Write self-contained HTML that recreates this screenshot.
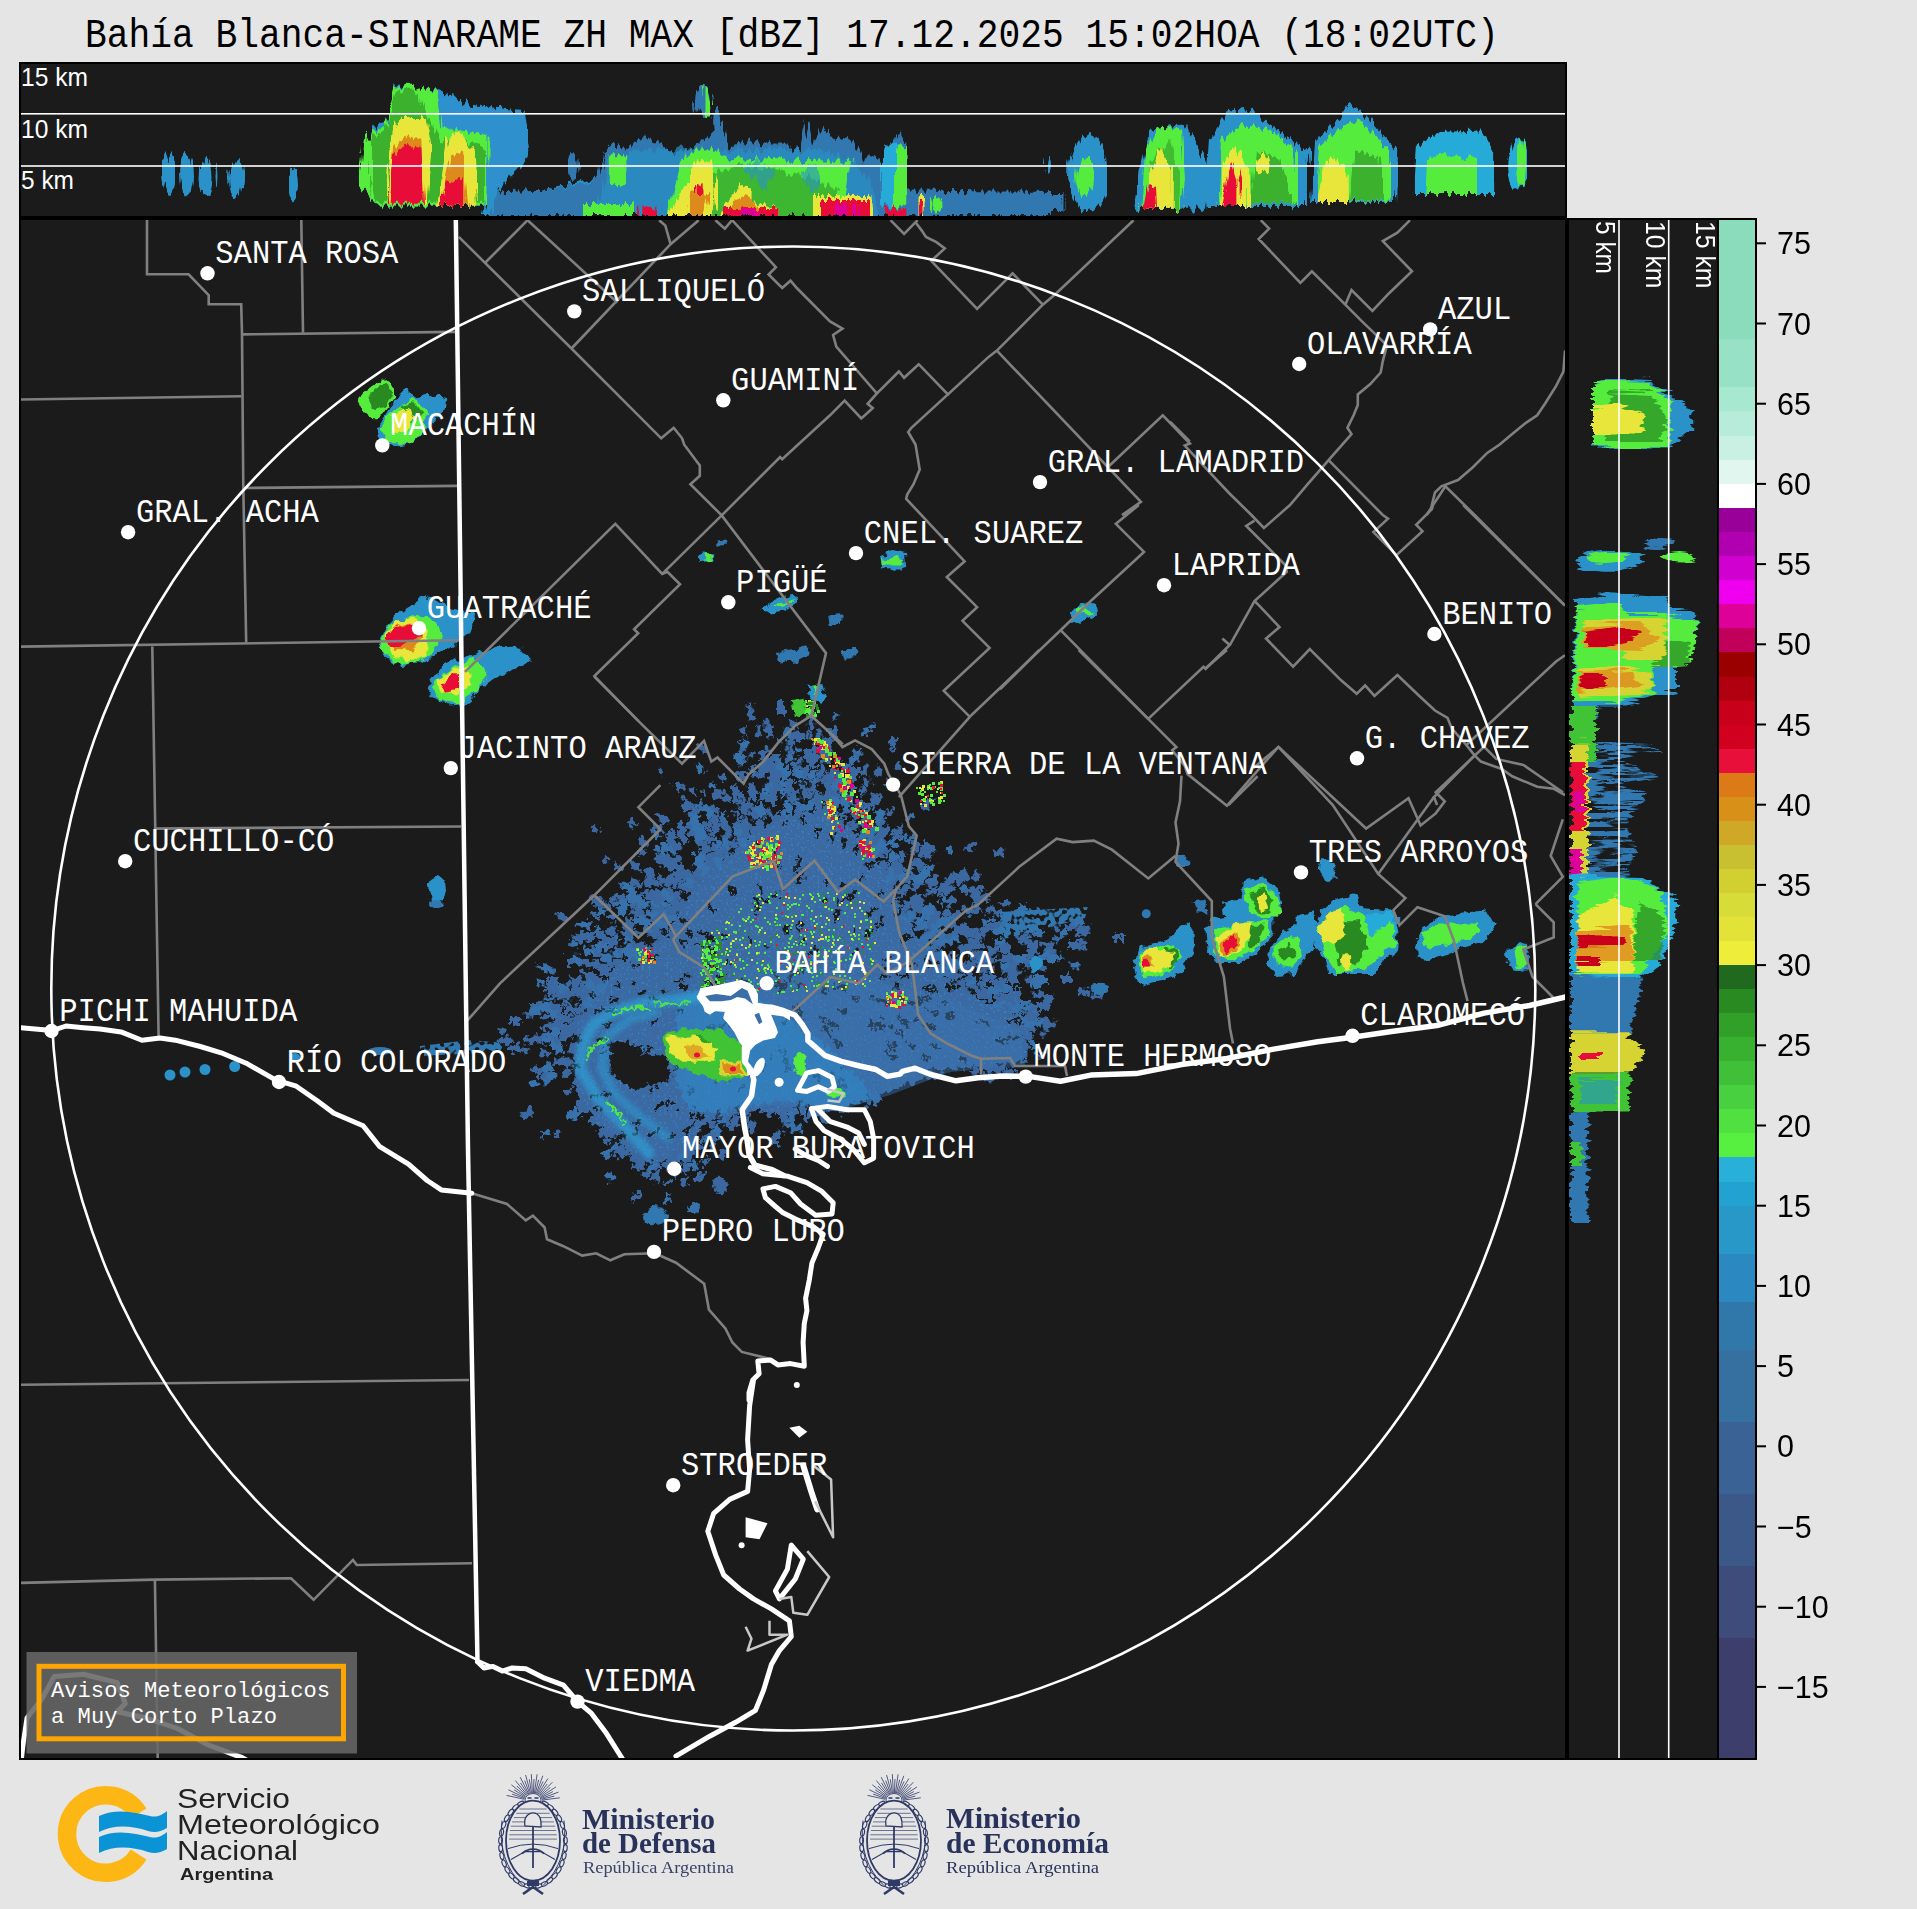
<!DOCTYPE html>
<html><head><meta charset="utf-8"><style>
html,body{margin:0;padding:0;background:#e5e5e5;width:1917px;height:1909px;overflow:hidden}
svg{display:block}
text{white-space:pre}
</style></head><body>
<svg xmlns="http://www.w3.org/2000/svg" width="1917" height="1909" viewBox="0 0 1917 1909">
<defs>
<clipPath id="cTop"><rect x="21" y="64" width="1544" height="152"/></clipPath>
<clipPath id="cMap"><rect x="21" y="220" width="1544" height="1538"/></clipPath>
<clipPath id="cRight"><rect x="1569" y="220" width="148" height="1538"/></clipPath>

<filter id="blur2" x="-20%" y="-20%" width="140%" height="140%"><feGaussianBlur stdDeviation="2"/></filter>
<filter id="streakH" filterUnits="userSpaceOnUse" x="0" y="0" width="1917" height="1909">
<feTurbulence type="fractalNoise" baseFrequency="0.03 0.22" numOctaves="2" seed="8" result="n"/>
<feColorMatrix in="n" type="matrix" values="0 0 0 0 0 0 0 0 0 0 0 0 0 0 0 10 0 0 0 -4.2" result="m"/>
<feComposite in="SourceGraphic" in2="m" operator="in"/>
</filter>
<filter id="jagTop" filterUnits="userSpaceOnUse" x="0" y="0" width="1917" height="1909">
<feTurbulence type="fractalNoise" baseFrequency="0.25 0.015" numOctaves="2" seed="7" result="n"/>
<feDisplacementMap in="SourceGraphic" in2="n" scale="14" xChannelSelector="R" yChannelSelector="G"/>
</filter>
<filter id="jagRight" filterUnits="userSpaceOnUse" x="0" y="0" width="1917" height="1909">
<feTurbulence type="fractalNoise" baseFrequency="0.015 0.25" numOctaves="2" seed="5" result="n"/>
<feDisplacementMap in="SourceGraphic" in2="n" scale="14" xChannelSelector="R" yChannelSelector="G"/>
</filter>
<filter id="jagField" filterUnits="userSpaceOnUse" x="0" y="0" width="1917" height="1909">
<feTurbulence type="fractalNoise" baseFrequency="0.18" numOctaves="2" seed="17" result="n"/>
<feDisplacementMap in="SourceGraphic" in2="n" scale="12" xChannelSelector="R" yChannelSelector="G"/>
</filter>
<filter id="jagMap" filterUnits="userSpaceOnUse" x="0" y="0" width="1917" height="1909">
<feTurbulence type="fractalNoise" baseFrequency="0.12" numOctaves="2" seed="11" result="n"/>
<feDisplacementMap in="SourceGraphic" in2="n" scale="9" xChannelSelector="R" yChannelSelector="G"/>
</filter>
<filter id="speckA" filterUnits="userSpaceOnUse" x="0" y="0" width="1917" height="1909">
<feTurbulence type="fractalNoise" baseFrequency="0.11" numOctaves="2" seed="4" result="n"/>
<feColorMatrix in="n" type="matrix" values="0 0 0 0 0 0 0 0 0 0 0 0 0 0 0 12 0 0 0 -5.6" result="m"/>
<feComposite in="SourceGraphic" in2="m" operator="in"/>
</filter>
<filter id="speckB" filterUnits="userSpaceOnUse" x="0" y="0" width="1917" height="1909">
<feTurbulence type="fractalNoise" baseFrequency="0.13" numOctaves="2" seed="9" result="n"/>
<feColorMatrix in="n" type="matrix" values="0 0 0 0 0 0 0 0 0 0 0 0 0 0 0 12 0 0 0 -4.4" result="m"/>
<feComposite in="SourceGraphic" in2="m" operator="in"/>
</filter>
<filter id="speckC" filterUnits="userSpaceOnUse" x="0" y="0" width="1917" height="1909">
<feTurbulence type="fractalNoise" baseFrequency="0.15" numOctaves="2" seed="13" result="n"/>
<feColorMatrix in="n" type="matrix" values="0 0 0 0 0 0 0 0 0 0 0 0 0 0 0 12 0 0 0 -3.2" result="m"/>
<feComposite in="SourceGraphic" in2="m" operator="in"/>
</filter>
<filter id="speckD" filterUnits="userSpaceOnUse" x="0" y="0" width="1917" height="1909">
<feTurbulence type="fractalNoise" baseFrequency="0.2" numOctaves="1" seed="21" result="n"/>
<feColorMatrix in="n" type="matrix" values="0 0 0 0 0 0 0 0 0 0 0 0 0 0 0 12 0 0 0 -5" result="m"/>
<feComposite in="SourceGraphic" in2="m" operator="in"/>
</filter>
<filter id="speckE" filterUnits="userSpaceOnUse" x="0" y="0" width="1917" height="1909">
<feTurbulence type="fractalNoise" baseFrequency="0.45" numOctaves="1" seed="33" result="n"/>
<feColorMatrix in="n" type="matrix" values="0 0 0 0 0 0 0 0 0 0 0 0 0 0 0 14 0 0 0 -8.5" result="m"/>
<feComposite in="SourceGraphic" in2="m" operator="in"/>
</filter>

</defs>
<rect width="1917" height="1909" fill="#e5e5e5"/>
<text x="85" y="47" font-family="Liberation Mono" font-size="40.4" fill="#000" textLength="1413.8" lengthAdjust="spacingAndGlyphs">Bahía Blanca-SINARAME ZH MAX [dBZ] 17.12.2025 15:02HOA (18:02UTC)</text>

<!-- top panel -->
<rect x="20" y="63" width="1546" height="154" fill="#1b1b1b"/>
<g clip-path="url(#cTop)">
<g filter="url(#jagTop)"><ellipse cx="169.6" cy="173.5" rx="6.5" ry="20.0" fill="#2a92c8" />
<ellipse cx="186.0" cy="175.0" rx="6.0" ry="21.0" fill="#2a92c8" />
<ellipse cx="207.0" cy="177.0" rx="6.5" ry="19.0" fill="#2a92c8" />
<ellipse cx="235.0" cy="179.0" rx="7.0" ry="19.0" fill="#2a92c8" />
<ellipse cx="293.0" cy="184.0" rx="5.0" ry="17.0" fill="#2a92c8" />
<path d="M358.7,176.8 L366.5,140.2 L376.9,124.6 L395.2,114.2 L395.2,85.5 L436.9,89.4 L473.4,105.0 L525.6,111.6 L530.8,148.1 L525.6,161.1 L509.9,176.8 L496.9,192.4 L541.2,191.1 L567.3,184.6 L650.0,166.3 L650.0,215.9 L483.9,215.9 L486.5,205.5 L376.9,205.5 L358.7,184.6 Z" fill="#2a92c8" />
<path d="M436.9,90.7 L473.4,106.3 L525.6,112.9 L528.2,148.1 L509.9,174.2 L489.1,197.6 L486.5,205.5 L436.9,205.5 Z" fill="#2e90cc" />
<path d="M358.7,179.4 L363.9,140.2 L384.7,124.6 L395.2,88.1 L410.8,85.5 L436.9,90.7 L442.1,127.2 L486.5,135.0 L486.5,205.5 L376.9,205.5 L358.7,184.6 Z" fill="#54ec3e" />
<path d="M369.1,140.2 L384.7,129.8 L397.8,90.7 L418.6,90.7 L426.5,114.2 L439.5,140.2 L463.0,140.2 L483.9,148.1 L483.9,202.8 L374.3,202.8 L369.1,182.0 Z" fill="#2a8a24" opacity="0.6"/>
<path d="M387.4,202.8 L392.6,129.8 L400.4,118.1 L426.5,118.1 L431.7,148.1 L426.5,202.8 Z" fill="#e8e63a" />
<path d="M436.9,205.5 L447.3,140.2 L457.8,129.8 L473.4,150.7 L476.0,205.5 Z" fill="#e8e63a" />
<path d="M388.7,202.8 L395.2,145.5 L408.2,135.0 L421.3,140.2 L423.9,202.8 Z" fill="#dd8a1c" />
<path d="M388.7,202.8 L393.9,153.3 L408.2,142.9 L421.3,150.7 L423.9,202.8 Z" fill="#e81038" />
<path d="M439.5,205.5 L449.9,155.9 L463.0,150.7 L468.2,205.5 Z" fill="#dd8a1c" />
<path d="M439.5,205.5 L444.7,184.6 L460.4,176.8 L463.0,205.5 Z" fill="#e81038" />
<path d="M490.0,216.0 L497.0,192.4 L541.2,191.1 L565.8,186.5 L588.8,182.4 L598.3,174.3 L602.4,153.9 L611.9,144.4 L628.2,148.5 L643.1,136.3 L653.9,140.3 L670.2,151.2 L681.1,153.9 L694.6,145.8 L709.5,134.9 L720.3,125.0 L729.9,145.8 L747.5,140.3 L770.6,144.4 L790.0,144.4 L798.1,153.9 L804.9,120.0 L811.7,147.1 L822.6,126.8 L834.8,140.3 L847.0,136.3 L857.8,153.9 L860.5,148.5 L866.0,164.8 L871.4,153.9 L879.5,158.0 L884.9,178.3 L891.7,143.1 L898.5,132.2 L905.3,144.4 L906.6,190.5 L1050.0,191.9 L1050.0,216.0 Z" fill="#3178b0" />
<path d="M600.0,200.0 L605.0,160.0 L640.0,150.0 L700.0,148.0 L760.0,150.0 L820.0,150.0 L850.0,160.0 L870.0,180.0 L880.0,216.0 L590.0,216.0 Z" fill="#2a92c8" opacity="0.7"/>
<path d="M670.2,201.4 L681.1,164.8 L693.3,149.8 L709.5,147.1 L729.9,158.0 L790.0,160.7 L851.0,162.0 L845.0,200.0 L840.0,216.0 L667.5,216.0 Z" fill="#54ec3e" />
<path d="M700.0,175.0 L740.0,165.0 L800.0,175.0 L840.0,190.0 L830.0,216.0 L690.0,216.0 Z" fill="#2a8a24" opacity="0.55"/>
<path d="M740.0,165.0 L760.0,160.0 L775.0,175.0 L765.0,190.0 Z" fill="#2a92c8" opacity="0.6"/>
<path d="M800.0,170.0 L815.0,165.0 L825.0,185.0 L810.0,195.0 Z" fill="#2a92c8" opacity="0.6"/>
<ellipse cx="573.0" cy="167.0" rx="5.0" ry="12.8" fill="#3178b0" />
<path d="M607.8,155.3 L625.4,155.3 L625.4,185.1 L607.8,185.1 Z" fill="#54ec3e" />
<path d="M583.4,204.0 L635.0,204.0 L635.0,216.0 L583.4,216.0 Z" fill="#54ec3e" />
<rect x="640.4" y="206.8" width="14.9" height="9.2" fill="#e81038" />
<path d="M667.5,216.0 L689.2,181.0 L696.0,159.3 L710.9,159.3 L717.7,187.8 L716.3,204.1 L709.5,216.0 Z" fill="#e8e63a" />
<path d="M689.2,193.2 L700.0,183.7 L709.5,196.0 L702.8,216.0 L686.5,216.0 Z" fill="#dd8a1c" />
<rect x="696.0" y="185.1" width="5.4" height="10.9" fill="#e81038" />
<path d="M719.0,216.0 L729.9,198.7 L740.7,185.1 L751.6,186.5 L751.6,201.4 L777.4,208.2 L777.4,216.0 Z" fill="#e8e63a" />
<path d="M725.0,216.0 L735.0,200.0 L748.0,195.0 L760.0,210.0 L765.0,216.0 Z" fill="#dd8a1c" />
<rect x="723.0" y="208.0" width="54.4" height="8.0" fill="#e81038" />
<rect x="742.0" y="209.0" width="18.0" height="7.0" fill="#dd0099" />
<path d="M813.0,196.0 L871.4,196.0 L874.1,216.0 L813.0,216.0 Z" fill="#e8e63a" />
<rect x="820.0" y="200.0" width="48.0" height="16.0" fill="#e81038" />
<rect x="835.0" y="204.0" width="10.0" height="12.0" fill="#dd0099" />
<rect x="852.0" y="205.0" width="6.0" height="11.0" fill="#dd0099" />
<path d="M880.9,204.0 L880.9,166.1 L889.0,144.4 L898.0,143.0 L898.0,208.2 Z" fill="#28aad8" />
<path d="M893.0,208.0 L893.0,150.0 L898.0,143.1 L905.3,150.0 L905.3,204.0 Z" fill="#54ec3e" />
<rect x="885.0" y="208.0" width="20.3" height="8.0" fill="#e81038" />
<rect x="917.5" y="196.0" width="8.1" height="20.0" fill="#e8e63a" />
<rect x="919.5" y="202.0" width="4.0" height="14.0" fill="#e81038" />
<ellipse cx="936.0" cy="205.0" rx="5.5" ry="9.0" fill="#54ec3e" />
<ellipse cx="704.5" cy="102.0" rx="8.5" ry="16.0" fill="#3178b0" />
<path d="M704.5,86.0 L710.0,90.0 L713.0,102.0 L710.0,116.0 L704.5,118.0 Z" fill="#54ec3e" />
<ellipse cx="718.7" cy="122.4" rx="4.6" ry="15.6" fill="#3178b0" />
<ellipse cx="1049.0" cy="164.0" rx="3.0" ry="9.0" fill="#2a92c8" />
<rect x="1050.0" y="194.0" width="13.5" height="16.0" fill="#3178b0" />
<ellipse cx="1089.0" cy="173.0" rx="20.0" ry="38.0" fill="#2a92c8" />
<ellipse cx="1084.0" cy="177.0" rx="9.0" ry="18.0" fill="#54ec3e" />
<path d="M1133.4,208.7 L1140.0,170.0 L1150.0,130.0 L1185.0,124.0 L1200.0,150.0 L1211.5,170.0 L1205.0,208.7 Z" fill="#2a92c8" />
<path d="M1141.5,208.7 L1145.0,150.0 L1160.0,126.6 L1182.0,130.0 L1185.0,180.0 L1182.0,208.7 Z" fill="#54ec3e" />
<path d="M1150.0,208.0 L1152.0,160.0 L1170.0,140.0 L1180.0,170.0 L1178.0,208.0 Z" fill="#2a8a24" opacity="0.5"/>
<path d="M1144.2,208.7 L1150.0,175.0 L1160.0,150.8 L1173.8,170.0 L1173.8,208.7 Z" fill="#e8e63a" />
<path d="M1142.9,208.7 L1148.0,183.0 L1155.0,185.0 L1156.0,208.7 Z" fill="#e81038" />
<path d="M1206.0,206.0 L1210.0,140.0 L1230.0,108.0 L1250.0,110.0 L1270.0,125.0 L1308.4,150.0 L1305.0,206.0 Z" fill="#2a92c8" />
<path d="M1218.2,203.3 L1222.0,140.0 L1240.0,125.3 L1270.0,130.0 L1297.6,150.0 L1297.6,203.3 Z" fill="#54ec3e" />
<path d="M1250.0,203.0 L1255.0,150.0 L1280.0,160.0 L1295.0,203.0 Z" fill="#2a8a24" opacity="0.6"/>
<path d="M1219.6,206.0 L1225.0,160.0 L1235.0,145.4 L1249.2,170.0 L1249.2,206.0 Z" fill="#e8e63a" />
<path d="M1222.3,206.0 L1228.0,175.0 L1233.0,161.6 L1238.4,180.0 L1238.4,206.0 Z" fill="#e81038" />
<ellipse cx="1261.0" cy="164.0" rx="6.5" ry="10.0" fill="#e8e63a" />
<path d="M1311.0,202.0 L1315.0,140.0 L1340.0,120.0 L1350.0,103.7 L1365.0,115.0 L1397.2,150.0 L1395.0,202.0 Z" fill="#2a92c8" />
<path d="M1316.5,200.6 L1320.0,145.0 L1345.0,125.0 L1360.0,119.9 L1389.2,150.0 L1389.2,200.6 Z" fill="#54ec3e" />
<path d="M1350.0,200.0 L1355.0,150.0 L1380.0,160.0 L1385.0,200.0 Z" fill="#2a8a24" opacity="0.6"/>
<path d="M1316.5,202.0 L1325.0,165.0 L1335.0,154.9 L1348.8,175.0 L1348.8,202.0 Z" fill="#e8e63a" />
<path d="M1414.7,193.9 L1418.0,145.0 L1440.0,132.0 L1480.0,130.6 L1494.1,150.0 L1494.1,193.9 Z" fill="#28aad8" />
<path d="M1424.2,193.9 L1426.0,160.0 L1440.0,154.9 L1478.0,158.0 L1478.0,193.9 Z" fill="#54ec3e" />
<ellipse cx="1517.6" cy="163.0" rx="11.4" ry="25.6" fill="#28aad8" />
<ellipse cx="1520.0" cy="163.0" rx="6.0" ry="24.0" fill="#54ec3e" /></g>
<rect x="21" y="113" width="1544" height="1.6" fill="#fff"/>
<rect x="21" y="165.2" width="1544" height="1.6" fill="#fff"/>
<g font-family="Liberation Sans" font-size="25.4" fill="#fff">
<text x="21" y="86" textLength="67" lengthAdjust="spacingAndGlyphs">15 km</text>
<text x="21" y="137.7" textLength="67" lengthAdjust="spacingAndGlyphs">10 km</text>
<text x="21" y="188.6" textLength="53" lengthAdjust="spacingAndGlyphs">5 km</text>
</g>
</g>

<!-- map -->
<rect x="20" y="219" width="1546" height="1540" fill="#1b1b1b"/>
<g clip-path="url(#cMap)">
<path d="M578.0,1022.0 L600.0,990.0 L613.5,967.2 L667.0,933.8 L697.0,883.7 L733.7,850.3 L780.5,816.9 L813.9,810.2 L847.2,823.6 L880.6,867.0 L907.3,917.1 L930.7,967.2 L980.8,1000.6 L1027.5,1017.2 L1027.5,1060.6 L947.4,1070.6 L880.6,1094.0 L813.9,1117.4 L757.1,1110.7 L713.7,1117.4 L680.0,1150.0 L655.0,1165.0 L628.0,1150.0 L595.0,1122.0 L574.0,1085.0 L578.0,1022.0 Z" fill="#3b6aa3" filter="url(#jagField)"/>
<g filter="url(#jagField)">
<path d="M751 715l-1 -6M781 711l-0 -6M832 735l0 -3M801 738l0 -2M823 749l1 -5M808 756l0 -3M776 761l-0 -4M827 758l1 -4M856 758l1 -3M764 768l-0 -2M769 767l-0 -3M813 763l0 -2M763 770l-0 -3M772 775l-1 -5M779 773l-0 -7M795 771l0 -4M833 775l1 -4M742 776l-0 -1M805 775l0 -4M832 774l0 -1M855 774l0 -2M680 787l-2 -3M735 793l-1 -3M752 790l-1 -3M790 790l-0 -6M839 788l1 -3M753 796l-0 -2M769 800l-0 -3M774 801l-0 -2M829 799l0 -1M873 804l3 -6M926 805l3 -4M686 806l-1 -1M799 810l0 -4M819 815l1 -6M825 814l1 -6M855 811l1 -3M664 820l-2 -3M694 819l-1 -2M775 821l-0 -4M785 819l-0 -6M716 826l-3 -5M725 824l-2 -5M738 826l-0 -1M851 828l1 -3M682 828l-1 -1M699 834l-1 -2M745 834l-2 -5M756 832l-1 -4M881 836l2 -4M896 836l3 -5M676 847l-4 -5M742 844l-2 -5M877 842l2 -4M704 851l-1 -2M718 854l-3 -6M870 851l3 -6M702 858l-1 -2M716 857l-1 -2M726 855l-2 -4M928 854l3 -3M997 853l4 -2M664 864l-5 -5M670 864l-2 -3M917 863l1 -1M680 867l-5 -5M712 869l-3 -4M714 867l-3 -5M883 866l1 -1M893 870l3 -3M650 874l-1 -1M691 876l-2 -3M706 874l-4 -5M711 872l-3 -4M895 876l3 -3M898 870l1 -1M959 875l4 -2M674 882l-3 -3M680 879l-3 -3M694 882l-4 -4M704 878l-3 -4M914 880l1 -1M949 881l3 -2M960 880l3 -2M893 883l2 -3M916 886l3 -3M931 883l3 -2M672 894l-3 -2M685 889l-3 -2M695 891l-4 -4M942 889l3 -2M650 896l-2 -1M661 897l-4 -3M601 903l-5 -2M679 906l-5 -4M916 902l4 -3M978 901l5 -2M640 908l-5 -3M674 912l-5 -3M917 910l2 -1M974 910l3 -1M644 916l-6 -3M907 916l4 -2M930 918l3 -2M935 916l1 -1M660 922l-5 -3M668 921l-6 -3M936 923l3 -1M630 925l-2 -1M665 927l-2 -1M927 926l3 -1M932 926l6 -3M996 926l6 -2M958 931l6 -2M1080 931l6 -1M587 937l-4 -1M591 936l-2 -0M948 938l6 -2M1117 937l1 -0M609 942l-4 -1M640 947l-3 -1M937 944l4 -1M1072 945l3 -0M598 951l-5 -1M623 952l-5 -1M924 952l5 -1M963 950l5 -1M1004 949l2 -0M1029 953l5 -1M628 954l-5 -1M946 958l3 -1M983 957l4 -1M1008 958l4 -1M1048 955l5 -1M574 961l-3 -0M595 965l-6 -1M614 964l-5 -1M622 963l-3 -0M955 965l7 -1M605 970l-1 -0M935 969l3 -0M941 969l5 -1M959 968l5 -1M592 977l-3 -0M951 976l3 -0M969 976l1 -0M989 977l2 -0M555 981l-4 -0M600 982l-1 -0M981 983l3 -0M1012 979l3 -0M1064 978l3 -0M584 988l-3 -0M995 988l4 -0M556 990l-4 0M565 993l-5 0M581 992l-7 0M979 992l2 0M1011 992l5 0M589 1000l-2 0M987 996l2 0M999 998l6 0M1011 998l6 0M540 1006l-5 0M1002 1003l2 0M1004 1002l6 0M1014 1002l3 0M1040 1006l7 0M558 1009l-3 0M573 1010l-5 0M559 1014l-4 0M1031 1016l4 0M517 1020l-4 0M564 1019l-5 1M1046 1023l5 1M567 1030l-2 0M575 1025l-3 1M576 1030l-1 0M552 1036l-6 1M570 1035l-7 1M1026 1036l3 1M536 1039l-3 1M516 1048l-3 1M578 1046l-5 1M562 1060l-4 1M662 1064l-6 3M986 1065l5 2M999 1065l3 1M984 1068l3 1M1006 1074l4 2M585 1101l-5 3M842 1107l1 3M529 1113l-4 2M783 1115l-0 1M822 1117l1 3M694 1140l-2 4M774 1140l-0 1M684 1147l-3 4M693 1148l-3 5M622 1151l-2 2M723 1153l-1 2M640 1159l-3 3M675 1155l-4 5M687 1158l-1 2M641 1161l-4 5M723 1185l-2 6" stroke="#3b68a0" stroke-width="8" stroke-linecap="square" fill="none"/>
<path d="M766 726l-0 -4M759 733l-1 -5M745 734l-1 -4M796 737l0 -3M809 738l0 -5M819 736l0 -2M779 742l-0 -2M790 749l-0 -4M764 758l-1 -5M823 754l1 -5M751 756l-0 -2M823 762l1 -7M799 765l0 -5M898 767l1 -3M661 772l-1 -1M848 770l1 -5M723 779l-1 -2M760 776l-1 -4M784 780l-0 -6M785 776l-0 -1M819 777l1 -6M781 785l-0 -3M824 783l1 -6M848 783l1 -5M779 789l-0 -4M695 794l-3 -5M704 794l-0 -1M735 792l-1 -2M784 794l-0 -4M796 796l0 -4M811 794l0 -4M830 797l1 -6M862 794l2 -6M873 797l1 -3M686 802l-1 -2M736 800l-1 -4M743 802l-2 -6M765 799l-0 -2M819 803l1 -6M848 801l1 -4M741 804l-0 -1M750 806l-1 -3M831 805l1 -5M854 808l1 -2M864 810l2 -6M716 813l-2 -5M737 818l-2 -6M753 817l-1 -6M757 815l-1 -3M769 816l-1 -5M848 813l1 -2M889 814l2 -3M716 821l-2 -5M836 818l1 -3M845 817l1 -2M691 828l-2 -3M746 824l-1 -5M842 823l1 -4M856 829l3 -6M882 822l1 -1M596 830l-2 -2M663 831l-4 -5M704 833l-2 -3M714 834l-2 -4M749 830l-1 -4M878 830l3 -5M885 833l3 -5M670 839l-2 -3M675 836l-3 -4M741 840l-2 -5M872 837l1 -2M879 839l1 -1M709 840l-1 -1M720 845l-3 -5M870 844l2 -4M914 844l1 -1M708 849l-3 -5M732 847l-1 -1M873 847l2 -3M969 848l5 -4M720 856l-2 -4M873 856l2 -4M922 853l2 -2M607 859l-1 -1M678 859l-2 -2M709 861l-3 -4M620 868l-4 -3M634 865l-1 -1M640 868l-2 -1M671 868l-1 -1M907 870l2 -2M912 865l2 -2M919 869l4 -4M923 866l1 -1M929 869l3 -3M699 874l-3 -4M884 873l2 -3M886 873l4 -4M654 880l-4 -3M974 878l3 -2M659 885l-5 -4M908 889l1 -1M929 893l4 -3M948 890l5 -3M966 892l5 -3M977 890l4 -2M900 896l3 -3M914 898l2 -2M940 894l5 -3M975 896l2 -1M616 902l-4 -2M922 903l1 -1M980 903l6 -3M1004 904l2 -1M610 907l-6 -3M656 909l-3 -2M665 911l-4 -2M668 907l-5 -3M597 917l-4 -2M665 914l-6 -3M953 917l4 -2M566 918l-6 -2M630 920l-3 -1M908 922l6 -3M956 927l6 -2M1055 927l2 -0M611 932l-3 -1M634 932l-7 -2M659 932l-5 -2M926 934l2 -1M964 934l5 -1M983 934l1 -0M633 936l-2 -1M930 936l1 -0M943 937l3 -1M1019 937l6 -1M1056 939l6 -1M631 944l-1 -0M645 947l-3 -1M980 946l3 -1M1000 945l6 -1M1044 943l3 -0M1049 945l2 -0M644 948l-2 -1M935 948l4 -1M976 953l2 -0M1082 948l2 -0M598 955l-3 -1M942 959l2 -0M932 960l4 -1M941 964l6 -1M974 963l2 -0M984 960l3 -0M988 962l4 -1M554 971l-3 -0M989 968l3 -0M1011 968l3 -0M1017 971l3 -0M1041 968l3 -0M583 972l-1 -0M947 972l5 -1M957 976l3 -0M984 976l5 -0M1006 972l5 -0M965 980l6 -0M581 988l-5 0M958 984l4 -0M972 986l2 -0M980 985l1 -0M982 986l2 -0M584 994l-6 0M962 989l5 0M561 997l-7 0M569 997l-3 0M1035 995l7 0M1096 996l4 0M568 1003l-5 0M582 1006l-2 0M553 1009l-5 0M1017 1010l5 1M532 1016l-4 0M550 1016l-5 1M571 1018l-7 1M1029 1014l2 0M559 1022l-5 1M572 1019l-4 1M559 1027l-4 1M1044 1028l3 0M504 1031l-2 0M1043 1035l1 0M528 1040l-2 0M555 1040l-7 1M559 1040l-1 0M576 1046l-6 2M527 1050l-5 1M574 1051l-1 0M644 1053l-3 1M668 1056l-3 2M1040 1056l1 0M1009 1062l5 2M542 1069l-7 2M574 1067l-4 2M634 1071l-4 2M976 1071l1 1M997 1069l3 1M1009 1069l5 2M932 1075l3 2M571 1090l-4 2M862 1098l3 5M587 1106l-5 3M770 1111l-1 3M747 1116l-2 5M806 1116l1 5M785 1122l-0 3M558 1134l-2 1M779 1131l-0 5M608 1140l-2 1M695 1139l-1 2M699 1146l-2 3M713 1145l-2 5M613 1149l-5 5M706 1160l-2 4M644 1162l-4 5M660 1164l-3 4M687 1178l-3 5M668 1182l-1 1" stroke="#3b68a0" stroke-width="5" stroke-linecap="square" fill="none"/>
<path d="M811 725l0 -7M794 726l0 -2M770 735l-1 -6M792 742l-0 -6M826 742l0 -1M703 750l-1 -3M743 749l-1 -4M827 749l1 -7M892 746l2 -5M768 751l-0 -2M816 753l0 -4M743 758l-1 -3M788 760l-0 -2M812 760l0 -2M776 766l-1 -7M823 771l0 -3M863 773l2 -5M877 773l1 -3M829 778l0 -2M840 779l1 -5M770 784l-0 -3M776 787l-1 -7M814 785l0 -3M838 786l1 -6M850 782l2 -6M868 782l0 -1M889 784l2 -3M776 789l-0 -1M803 788l0 -2M828 787l1 -3M718 796l-1 -3M726 798l-1 -2M762 798l-0 -2M773 794l-0 -3M805 796l0 -5M817 796l0 -2M825 795l1 -3M836 796l1 -6M844 797l0 -2M791 801l-0 -5M841 801l1 -2M746 807l-1 -5M814 805l0 -4M695 811l-1 -3M745 812l-1 -3M784 819l-0 -6M855 817l1 -2M633 824l-2 -2M707 826l-1 -1M725 828l-2 -4M760 824l-0 -2M655 829l-1 -1M691 832l-3 -5M728 834l-1 -3M761 830l-1 -4M684 840l-4 -5M710 840l-3 -5M644 843l-2 -2M701 845l-3 -4M728 843l-3 -6M734 845l-1 -2M880 852l4 -6M913 852l4 -5M924 848l3 -3M643 853l-2 -1M666 858l-3 -3M885 853l1 -1M713 859l-1 -2M900 860l2 -3M675 870l-1 -1M681 876l-3 -3M685 874l-1 -1M663 881l-2 -2M700 878l-2 -2M907 880l3 -3M629 887l-5 -3M638 885l-5 -3M652 885l-5 -4M668 884l-5 -4M667 893l-3 -2M901 890l2 -1M973 891l3 -1M623 899l-5 -3M656 899l-5 -3M671 897l-2 -1M678 896l-2 -1M984 898l2 -1M625 906l-5 -2M663 903l-5 -3M687 906l-5 -4M907 904l3 -2M913 905l6 -4M949 903l4 -2M680 909l-5 -4M903 910l3 -2M926 910l1 -1M967 910l5 -2M989 910l4 -1M639 913l-4 -2M659 915l-6 -3M946 913l2 -1M996 913l3 -1M1035 912l2 -1M666 919l-4 -2M676 919l-3 -2M613 929l-2 -1M656 928l-3 -1M948 926l6 -2M985 929l4 -1M1067 927l5 -1M1074 924l2 -0M630 933l-6 -2M639 933l-6 -2M651 932l-5 -2M662 935l-6 -3M935 936l6 -2M969 934l6 -2M978 934l6 -2M1031 932l2 -1M581 939l-5 -1M601 936l-2 -1M616 942l-6 -1M657 937l-2 -1M971 941l7 -2M966 947l6 -1M1024 942l5 -1M1033 945l2 -0M1081 942l3 -0M638 950l-5 -1M968 948l7 -2M991 951l4 -1M1048 951l4 -1M930 956l4 -1M974 957l2 -0M999 959l3 -0M585 962l-5 -1M948 962l6 -1M966 965l6 -1M1009 965l7 -1M1028 964l6 -1M604 968l-2 -0M951 970l2 -0M966 967l6 -1M972 965l2 -0M980 970l5 -1M1013 972l2 -0M579 980l-6 -0M589 982l-5 -0M593 983l-2 -0M953 977l2 -0M986 978l4 -0M995 983l2 -0M1001 981l3 -0M1028 981l5 -0M552 987l-4 -0M575 984l-5 -0M573 995l-6 0M591 990l-7 0M985 993l2 0M996 990l2 0M1083 992l5 0M588 997l-6 0M1047 999l3 0M555 1006l-2 0M1030 1007l5 0M581 1010l-4 0M1001 1007l2 0M1007 1007l2 0M1032 1012l1 0M580 1017l-3 0M549 1026l-4 1M1026 1027l6 1M553 1037l-1 0M574 1032l-7 1M509 1040l-6 1M545 1037l-4 1M546 1053l-2 0M628 1051l-5 2M570 1062l-5 2M574 1066l-2 1M622 1062l-1 1M671 1070l-5 3M974 1071l2 1M546 1075l-5 2M550 1075l-6 2M567 1073l-1 1M990 1077l1 0M659 1079l-5 4M585 1110l-3 2M593 1120l-2 1M728 1114l-1 3M736 1118l-2 4M711 1120l-1 1M713 1122l-2 3M727 1122l-1 1M736 1119l-3 6M752 1124l-1 5M606 1130l-4 3M796 1128l0 1M608 1133l-2 1M711 1133l-2 3M716 1132l-2 4M630 1149l-4 4M637 1152l-5 5M688 1152l-3 5M669 1163l-2 3M676 1167l-1 2M686 1167l-1 2M648 1172l-1 2M656 1176l-1 2M701 1173l-2 5M719 1180l-2 6M636 1196l-2 3" stroke="#3b68a0" stroke-width="6.5" stroke-linecap="square" fill="none"/>
<path d="M835 718l0 -2M870 728l1 -2M865 733l1 -3M799 752l0 -1M858 751l1 -2M791 758l-0 -4M779 769l-0 -7M846 767l0 -2M754 774l-1 -6M713 787l-1 -2M772 788l-0 -2M797 804l0 -5M701 809l-2 -5M860 806l1 -3M864 813l1 -3M724 817l-1 -3M909 818l2 -2M871 828l1 -3M736 831l-1 -3M863 833l3 -6M902 840l2 -2M718 841l-1 -2M885 847l3 -4M892 845l3 -4M658 851l-2 -2M673 851l-2 -3M720 847l-1 -2M727 848l-2 -5M949 851l1 -1M698 858l-2 -2M701 864l-3 -5M702 861l-3 -5M891 861l2 -2M691 883l-4 -4M962 889l3 -2M657 906l-5 -3M666 904l-1 -1M968 913l2 -1M1003 918l6 -2M984 922l7 -2M1005 921l3 -1M1064 918l1 -0M917 928l4 -2M600 930l-3 -1M1017 931l1 -0M617 937l-3 -1M951 941l5 -2M577 945l-5 -1M922 944l4 -1M929 947l3 -1M947 943l4 -1M998 943l3 -1M617 954l-2 -0M1054 958l7 -1M1025 960l4 -0M1004 966l3 -0M1073 966l4 -0M542 983l-3 -0M599 992l-4 0M999 991l3 0M550 999l-4 0M595 1000l-6 0M1010 1008l6 1M1027 1008l4 0M1037 1020l3 0M561 1050l-3 1M613 1069l-3 1M535 1082l-4 2M547 1081l-1 0M580 1113l-5 3M792 1115l-0 6M547 1133l-4 2M705 1139l-1 2M714 1139l-1 1M614 1144l-3 3M618 1146l-2 2M608 1153l-3 3" stroke="#3772ad" stroke-width="5" stroke-linecap="square" fill="none"/>
<path d="M787 735l-0 -5M745 743l-0 -1M739 762l-1 -6M853 760l1 -2M701 771l-1 -3M800 778l0 -6M812 779l1 -6M784 781l-0 -1M853 790l0 -2M766 792l-0 -2M784 794l-0 -3M804 808l0 -2M762 814l-1 -5M787 812l-0 -6M697 817l-1 -1M864 823l2 -5M738 832l-0 -1M657 836l-1 -1M700 839l-2 -4M705 837l-3 -5M751 838l-0 -1M910 839l3 -3M745 845l-2 -5M867 844l3 -5M720 865l-3 -5M908 872l1 -1M923 874l5 -4M688 884l-1 -1M638 898l-4 -2M670 898l-4 -3M943 900l3 -2M603 912l-2 -1M622 912l-1 -0M652 914l-1 -1M925 913l4 -2M1015 912l5 -2M614 918l-3 -1M906 919l6 -4M919 921l6 -3M947 920l3 -1M588 926l-7 -2M920 928l4 -2M938 925l6 -3M1013 926l3 -1M647 930l-2 -1M1039 933l2 -0M1062 933l3 -1M605 947l-5 -1M940 943l4 -1M592 952l-5 -1M608 957l-4 -1M1042 956l6 -1M577 959l-1 -0M609 960l-4 -1M548 969l-7 -1M970 982l2 -0M565 987l-5 -0M1036 985l1 -0M547 1007l-5 0M590 1004l-3 0M540 1010l-6 1M556 1014l-3 0M553 1076l-3 1M651 1080l-2 1M723 1121l-1 1M791 1121l-0 4M717 1128l-1 3M798 1127l0 1M683 1156l-3 4M668 1197l-2 3" stroke="#3772ad" stroke-width="6.5" stroke-linecap="square" fill="none"/>
<path d="M785 772l-0 -3M835 788l1 -6M835 804l1 -3M759 809l-0 -1M811 808l0 -2M846 807l1 -5M710 813l-3 -5M830 815l1 -5M878 819l3 -6M697 828l-3 -5M871 835l3 -6M861 840l3 -6M880 846l1 -2M666 849l-2 -3M874 854l2 -3M893 858l1 -2M704 870l-4 -5M888 879l4 -5M901 878l1 -1M914 881l5 -4M920 879l5 -5M631 890l-5 -3M625 906l-5 -3M638 902l-6 -3M645 904l-6 -3M930 910l1 -1M1020 910l2 -1M670 918l-5 -3M639 922l-1 -0M646 922l-4 -2M1077 922l3 -1M665 926l-5 -2M933 931l1 -1M941 935l1 -1M996 932l4 -1M629 939l-3 -1M921 940l6 -2M634 951l-4 -1M633 954l-6 -1M935 956l4 -1M1019 959l2 -0M950 963l4 -1M1018 959l3 -0M1050 959l2 -0M944 972l3 -0M1037 980l6 -0M589 985l-2 -0M601 988l-5 -0M1007 988l2 -0M991 991l2 0M995 1005l6 0M1019 1004l5 0M1027 1023l7 1M556 1031l-1 0M550 1038l-4 1M557 1046l-2 0M1034 1046l2 0M623 1062l-1 0M549 1067l-3 1M874 1096l3 4M574 1113l-3 2M655 1164l-4 5M695 1163l-2 3M677 1169l-2 2M612 1176l-1 1M695 1206l-2 4" stroke="#3772ad" stroke-width="8" stroke-linecap="square" fill="none"/>
<path d="M812 813l0 -4M786 824l-0 -2M843 845l2 -5M776 852l-1 -7M796 871l0 -7M765 901l-1 -2M825 901l1 -3M714 911l-5 -5M800 925l0 -3M726 937l-3 -2M752 940l-2 -2M651 947l-5 -1M885 959l7 -2M731 963l-3 -1M637 966l-4 -1M777 976l-4 -3M883 976l3 -0M712 983l-5 -0M833 986l8 -0M926 988l7 -0M716 991l-3 0M824 991l2 0M853 998l3 1M921 998l7 1M755 1007l-4 2M914 1001l8 1M941 1003l5 0M601 1010l-5 1M614 1010l-6 1M765 1008l-3 2M839 1009l6 3M932 1012l4 1M948 1016l4 1M835 1024l3 3M980 1021l3 0M983 1022l3 1M1010 1021l5 1M1015 1021l5 1M889 1025l2 1M760 1037l-2 3M835 1041l4 5M643 1048l-6 2M714 1043l-3 2M738 1046l-5 6M887 1045l6 4M909 1044l6 3M933 1045l5 2M785 1051l-0 3M724 1060l-2 2M923 1057l6 3M579 1065l-7 3M787 1066l-0 5M996 1063l5 2M817 1074l1 5M742 1087l-2 4M597 1094l-5 2M739 1107l-1 3M798 1109l0 8M704 1125l-4 7M636 1131l-2 2M673 1134l-4 5" stroke="#1b1b1b" stroke-width="3.5" stroke-linecap="square" fill="none"/>
<path d="M803 820l0 -3M845 824l2 -5M817 836l1 -5M831 840l1 -4M856 851l2 -4M800 866l0 -7M869 866l2 -3M798 883l0 -7M734 893l-4 -6M849 899l4 -6M880 895l2 -2M895 897l2 -2M758 904l-2 -5M870 913l3 -3M896 914l4 -3M684 921l-2 -1M836 918l3 -6M877 927l3 -2M787 933l-1 -5M867 933l2 -1M691 935l-3 -2M706 935l-5 -3M713 940l-5 -3M904 939l6 -3M802 942l1 -4M714 952l-3 -2M657 957l-7 -2M715 967l-7 -2M795 970l0 -2M689 975l-3 -0M724 976l-6 -1M904 975l4 -0M746 983l-3 -0M780 983l-2 -1M791 978l-1 -5M685 987l-3 -0M717 985l-4 -0M784 986l-4 -1M798 986l2 -1M894 987l3 -0M950 987l6 -0M642 993l-3 0M782 990l-2 0M615 1001l-3 0M656 1000l-4 0M875 999l5 1M900 997l5 0M737 1006l-4 1M883 1002l6 1M682 1011l-3 1M744 1008l-2 1M799 1008l2 7M610 1024l-2 0M728 1023l-6 3M831 1022l3 3M871 1022l3 1M876 1024l7 3M903 1022l5 2M713 1027l-6 3M825 1028l4 5M869 1026l4 2M926 1025l6 2M690 1037l-4 2M1010 1036l7 2M578 1039l-5 1M602 1038l-2 1M1000 1040l6 1M888 1054l5 3M786 1059l-0 3M960 1058l4 2M682 1065l-5 3M700 1068l-2 2M934 1069l3 2M721 1077l-4 5M838 1083l3 6M692 1089l-3 3M609 1093l-5 3M662 1103l-6 5M670 1103l-3 3M799 1102l0 3M702 1114l-2 3M640 1120l-4 4M657 1129l-5 5M689 1129l-2 3M622 1136l-5 4" stroke="#1b1b1b" stroke-width="4.5" stroke-linecap="square" fill="none"/>
<path d="M759 848l-2 -7M734 853l-2 -5M776 857l-0 -3M778 868l-0 -2M803 878l1 -7M826 885l1 -3M859 883l4 -6M762 892l-2 -5M783 891l-0 -4M842 890l3 -6M776 896l-1 -3M842 902l3 -5M893 902l6 -5M836 905l2 -5M756 912l-2 -4M879 921l5 -4M666 935l-4 -2M798 931l1 -6M853 933l2 -2M685 944l-4 -2M702 947l-6 -3M768 949l-3 -4M812 954l4 -6M850 955l6 -4M925 958l6 -1M883 969l5 -1M907 966l7 -1M796 975l1 -2M803 971l2 -3M899 975l2 -0M635 982l-5 -0M681 981l-6 -0M621 986l-7 -0M839 988l6 0M667 992l-4 0M930 992l7 0M733 996l-4 0M713 1004l-3 1M909 1003l5 1M736 1009l-4 2M795 1007l1 5M926 1009l2 0M773 1015l-2 3M819 1017l5 5M882 1018l4 1M898 1016l5 1M608 1025l-4 1M655 1021l-3 1M784 1022l-1 3M785 1022l-1 2M915 1020l3 1M745 1030l-2 2M774 1027l-1 3M751 1034l-3 3M896 1032l6 3M890 1042l6 3M652 1048l-7 3M683 1046l-4 2M780 1048l-1 4M604 1051l-4 1M771 1053l-2 7M766 1065l-2 5M841 1064l3 5M865 1066l5 5M912 1066l3 2M798 1069l0 5M831 1071l2 5M729 1079l-3 4M749 1074l-1 2M841 1081l4 7M655 1087l-5 4M753 1090l-1 2M868 1095l4 6M599 1108l-3 2M680 1108l-4 4M696 1106l-2 3M807 1108l1 6M718 1113l-3 5M692 1115l-1 2M697 1121l-5 6M602 1126l-4 3" stroke="#1b1b1b" stroke-width="2.5" stroke-linecap="square" fill="none"/>
</g>
<path d="M578.0,1022.0 L600.0,990.0 L613.5,967.2 L667.0,933.8 L697.0,883.7 L733.7,850.3 L780.5,816.9 L813.9,810.2 L847.2,823.6 L880.6,867.0 L907.3,917.1 L930.7,967.2 L980.8,1000.6 L1027.5,1017.2 L1027.5,1060.6 L947.4,1070.6 L880.6,1094.0 L813.9,1117.4 L757.1,1110.7 L713.7,1117.4 L680.0,1150.0 L655.0,1165.0 L628.0,1150.0 L595.0,1122.0 L574.0,1085.0 L578.0,1022.0 Z" fill="#3a7cbc" filter="url(#speckE)"/>
<path d="M700,1000 L760,960 L850,975 L950,1000 L1020,1030 L1025,1065 L950,1072 L890,1095 L840,1110 L770,1105 L720,1120 L680,1100 L690,1040 Z" fill="#3a74b2" opacity="0.45"/>
<path d="M676,1000 L700,988 L760,1000 L820,1040 L860,1080 L875,1100 L830,1108 L780,1100 L720,1112 L690,1112 L676,1080 Z" fill="#2e8ccb" opacity="0.5" filter="url(#jagField)"/>
<path d="M609.6,1040.8 L629.5,1040.8 L640.0,1053.3 L666.2,1056.5 L671.4,1079.5 L650.5,1084.8 L634.8,1090.0 L619.0,1079.5 L610.7,1074.3 L609.6,1040.8 Z" fill="#1b1b1b" filter="url(#jagField)"/>
<g fill="none" stroke-linecap="round">
<path d="M699,997 L674,1000 L642.8,1003.2 L611.5,1012.6 L592.7,1025.1 L583.3,1043.9 L580.2,1068.9 L599,1100.2 L624,1125.3 L649,1153.4" stroke="#2aa6da" stroke-width="11" opacity="0.6" filter="url(#blur2)"/>
<path d="M655.3,1012.6 L630.2,1018.9 L605.2,1037.6 L602,1068.9 L614.6,1094 L642.8,1119 L667.8,1137.8" stroke="#2a9ed4" stroke-width="9" opacity="0.5" filter="url(#blur2)"/>
<path d="M650,1010 L638,1006 L615,1013" stroke="#54ec3e" stroke-width="3.5" opacity="0.9" filter="url(#jagField)"/><path d="M605,1040 L590,1050 L585,1060" stroke="#54ec3e" stroke-width="3" opacity="0.9" filter="url(#jagField)"/><path d="M655,1004 L690,1003" stroke="#54ec3e" stroke-width="3" opacity="0.8" filter="url(#jagField)"/>
<path d="M608,1102 L624,1122" stroke="#54ec3e" stroke-width="3" filter="url(#jagField)"/>
</g>
<path d="M701 993h2v2h-2zM829 977h2v2h-2zM729 950h2v2h-2zM786 970h2v2h-2zM840 980h2v2h-2zM806 969h2v2h-2zM744 975h2v2h-2zM754 902h2v2h-2zM869 980h2v2h-2zM752 919h2v2h-2zM786 930h2v2h-2zM835 968h2v2h-2zM794 974h2v2h-2zM812 976h2v2h-2zM746 964h2v2h-2zM767 921h2v2h-2zM852 965h2v2h-2zM825 938h2v2h-2zM761 927h2v2h-2zM707 967h2v2h-2zM810 961h2v2h-2zM839 975h2v2h-2zM808 907h2v2h-2zM739 925h2v2h-2zM802 941h2v2h-2zM733 973h2v2h-2zM777 958h2v2h-2zM824 900h2v2h-2zM716 929h2v2h-2zM720 968h2v2h-2zM781 991h2v2h-2zM815 970h2v2h-2zM819 899h2v2h-2zM800 943h2v2h-2zM790 927h2v2h-2zM793 943h2v2h-2zM848 947h2v2h-2zM806 905h2v2h-2zM713 958h2v2h-2zM870 920h2v2h-2zM814 901h2v2h-2zM850 954h2v2h-2zM714 948h2v2h-2zM718 955h2v2h-2zM735 966h2v2h-2zM768 966h2v2h-2zM861 943h2v2h-2zM706 957h2v2h-2zM737 991h2v2h-2zM833 944h2v2h-2zM828 939h2v2h-2zM739 959h2v2h-2zM731 924h2v2h-2zM795 903h2v2h-2zM858 892h2v2h-2zM738 911h2v2h-2zM852 939h2v2h-2zM828 950h2v2h-2zM778 977h2v2h-2zM860 920h2v2h-2zM865 972h2v2h-2zM770 941h2v2h-2zM756 895h2v2h-2zM755 989h2v2h-2zM718 961h2v2h-2zM825 923h2v2h-2zM779 924h2v2h-2zM825 965h2v2h-2zM758 952h2v2h-2zM764 952h2v2h-2zM708 959h2v2h-2zM714 937h2v2h-2zM791 904h2v2h-2zM825 901h2v2h-2zM730 989h2v2h-2zM759 941h2v2h-2zM869 948h2v2h-2zM754 991h2v2h-2zM816 985h2v2h-2zM768 900h2v2h-2zM800 934h2v2h-2zM854 980h2v2h-2zM763 968h2v2h-2zM811 980h2v2h-2zM816 923h2v2h-2zM820 984h2v2h-2zM791 946h2v2h-2zM739 958h2v2h-2zM702 944h2v2h-2zM849 977h2v2h-2zM716 979h2v2h-2zM869 929h2v2h-2zM813 920h2v2h-2zM798 904h2v2h-2zM730 946h2v2h-2zM833 939h2v2h-2zM820 972h2v2h-2zM789 906h2v2h-2zM840 960h2v2h-2zM775 924h2v2h-2zM724 953h2v2h-2zM758 944h2v2h-2zM713 983h2v2h-2zM799 898h2v2h-2zM834 962h2v2h-2zM823 956h2v2h-2zM761 964h2v2h-2zM784 947h2v2h-2zM702 960h2v2h-2zM789 961h2v2h-2zM786 924h2v2h-2zM801 969h2v2h-2zM818 984h2v2h-2zM788 946h2v2h-2zM788 942h2v2h-2zM803 944h2v2h-2zM832 986h2v2h-2zM858 934h2v2h-2zM809 893h2v2h-2zM824 957h2v2h-2zM827 981h2v2h-2zM824 949h2v2h-2zM722 963h2v2h-2zM812 896h2v2h-2zM816 975h2v2h-2zM758 970h2v2h-2zM730 942h2v2h-2zM769 923h2v2h-2zM706 968h2v2h-2zM811 910h2v2h-2zM798 967h2v2h-2zM864 985h2v2h-2zM713 954h2v2h-2zM702 955h2v2h-2zM770 893h2v2h-2zM824 901h2v2h-2zM850 934h2v2h-2zM743 967h2v2h-2zM854 916h2v2h-2zM790 937h2v2h-2zM802 894h2v2h-2zM854 935h2v2h-2zM764 917h2v2h-2zM813 985h2v2h-2zM861 910h2v2h-2zM728 994h2v2h-2zM786 930h2v2h-2zM791 916h2v2h-2zM729 993h2v2h-2zM723 990h2v2h-2zM748 979h2v2h-2zM748 952h2v2h-2zM733 931h2v2h-2zM732 962h2v2h-2zM726 936h2v2h-2zM759 898h2v2h-2zM756 962h2v2h-2zM791 935h2v2h-2zM789 938h2v2h-2zM725 922h2v2h-2zM817 893h2v2h-2zM735 932h2v2h-2zM855 980h2v2h-2zM865 919h2v2h-2zM762 981h2v2h-2zM801 914h2v2h-2zM783 991h2v2h-2zM725 951h2v2h-2zM805 965h2v2h-2zM742 960h2v2h-2zM718 942h2v2h-2zM804 935h2v2h-2zM711 952h2v2h-2zM844 894h2v2h-2zM844 912h2v2h-2zM820 915h2v2h-2zM811 972h2v2h-2zM777 992h2v2h-2zM866 919h2v2h-2zM871 963h2v2h-2zM704 958h2v2h-2zM765 972h2v2h-2zM810 918h2v2h-2zM786 956h2v2h-2zM708 940h2v2h-2zM804 951h2v2h-2zM716 942h2v2h-2zM845 959h2v2h-2zM787 908h2v2h-2zM735 931h2v2h-2zM810 894h2v2h-2zM833 961h2v2h-2zM701 991h2v2h-2zM769 988h2v2h-2zM807 968h2v2h-2zM760 906h2v2h-2zM832 935h2v2h-2zM828 908h2v2h-2zM867 938h2v2h-2zM776 918h2v2h-2zM871 960h2v2h-2zM764 943h2v2h-2zM818 895h2v2h-2zM778 936h2v2h-2zM814 969h2v2h-2zM810 967h2v2h-2zM757 983h2v2h-2zM764 970h2v2h-2zM776 894h2v2h-2zM798 962h2v2h-2zM706 951h2v2h-2zM701 974h2v2h-2zM756 962h2v2h-2zM828 936h2v2h-2zM775 917h2v2h-2zM711 980h2v2h-2zM795 939h2v2h-2zM813 931h2v2h-2zM736 953h2v2h-2zM757 926h2v2h-2zM756 953h2v2h-2zM810 931h2v2h-2zM755 945h2v2h-2zM841 926h2v2h-2zM715 978h2v2h-2zM833 929h2v2h-2zM792 963h2v2h-2zM725 928h2v2h-2zM734 959h2v2h-2zM751 909h2v2h-2zM865 932h2v2h-2zM833 971h2v2h-2zM776 907h2v2h-2zM844 975h2v2h-2zM833 899h2v2h-2zM838 965h2v2h-2zM793 903h2v2h-2zM740 908h2v2h-2zM769 902h2v2h-2zM750 981h2v2h-2zM846 904h2v2h-2zM827 940h2v2h-2zM770 893h2v2h-2zM755 925h2v2h-2zM742 937h2v2h-2zM744 930h2v2h-2zM816 955h2v2h-2zM787 904h2v2h-2zM770 969h2v2h-2zM785 915h2v2h-2zM823 897h2v2h-2zM828 929h2v2h-2zM854 950h2v2h-2zM833 897h2v2h-2zM733 940h2v2h-2zM747 918h2v2h-2zM854 913h2v2h-2zM818 954h2v2h-2zM826 956h2v2h-2zM811 933h2v2h-2zM870 958h2v2h-2zM775 980h2v2h-2zM796 989h2v2h-2zM811 980h2v2h-2zM853 925h2v2h-2zM839 937h2v2h-2zM801 940h2v2h-2zM742 918h2v2h-2zM858 938h2v2h-2zM748 916h2v2h-2zM764 977h2v2h-2zM754 940h2v2h-2zM770 970h2v2h-2zM767 964h2v2h-2zM812 976h2v2h-2zM771 972h2v2h-2zM757 989h2v2h-2zM703 964h2v2h-2zM821 960h2v2h-2zM791 924h2v2h-2zM846 983h2v2h-2zM707 974h2v2h-2zM743 919h2v2h-2zM740 968h2v2h-2zM750 921h2v2h-2zM849 958h2v2h-2zM733 990h2v2h-2zM802 914h2v2h-2zM776 924h2v2h-2zM831 909h2v2h-2zM768 896h2v2h-2zM827 892h2v2h-2zM758 931h2v2h-2zM748 946h2v2h-2zM739 939h2v2h-2zM765 967h2v2h-2zM832 936h2v2h-2zM827 980h2v2h-2zM867 944h2v2h-2zM824 906h2v2h-2zM704 985h2v2h-2zM818 951h2v2h-2zM725 961h2v2h-2zM838 949h2v2h-2zM752 985h2v2h-2zM790 985h2v2h-2zM704 984h2v2h-2zM774 921h2v2h-2zM796 944h2v2h-2zM706 954h2v2h-2z" fill="#54ec3e"/>
<path d="M812 936h2v2h-2zM702 949h2v2h-2zM841 902h2v2h-2zM800 922h2v2h-2zM797 972h2v2h-2zM816 962h2v2h-2zM831 946h2v2h-2zM751 959h2v2h-2zM864 973h2v2h-2zM788 897h2v2h-2zM859 907h2v2h-2zM785 896h2v2h-2zM828 919h2v2h-2zM762 960h2v2h-2zM861 969h2v2h-2zM702 944h2v2h-2zM756 952h2v2h-2zM810 963h2v2h-2zM722 953h2v2h-2zM767 968h2v2h-2zM757 968h2v2h-2zM728 922h2v2h-2zM837 918h2v2h-2zM736 954h2v2h-2zM731 985h2v2h-2zM838 970h2v2h-2zM799 952h2v2h-2zM764 932h2v2h-2zM811 942h2v2h-2zM827 955h2v2h-2zM838 981h2v2h-2zM736 979h2v2h-2zM845 986h2v2h-2zM832 942h2v2h-2zM786 966h2v2h-2zM732 940h2v2h-2zM850 902h2v2h-2zM855 980h2v2h-2zM815 916h2v2h-2zM870 926h2v2h-2zM805 964h2v2h-2zM716 954h2v2h-2zM822 938h2v2h-2zM792 990h2v2h-2zM724 963h2v2h-2zM726 948h2v2h-2zM853 933h2v2h-2zM835 950h2v2h-2zM841 988h2v2h-2zM727 954h2v2h-2zM749 944h2v2h-2zM805 929h2v2h-2zM874 942h2v2h-2zM826 917h2v2h-2zM872 960h2v2h-2zM787 950h2v2h-2zM710 958h2v2h-2zM848 931h2v2h-2zM864 913h2v2h-2zM795 940h2v2h-2zM837 939h2v2h-2zM851 938h2v2h-2zM860 921h2v2h-2zM825 936h2v2h-2zM862 962h2v2h-2zM756 905h2v2h-2zM777 971h2v2h-2zM805 938h2v2h-2zM792 920h2v2h-2zM802 961h2v2h-2zM756 977h2v2h-2zM764 967h2v2h-2zM762 902h2v2h-2zM820 938h2v2h-2zM795 915h2v2h-2zM783 902h2v2h-2zM810 947h2v2h-2zM842 896h2v2h-2zM855 983h2v2h-2zM735 938h2v2h-2zM728 934h2v2h-2zM734 964h2v2h-2zM759 909h2v2h-2zM833 973h2v2h-2zM817 955h2v2h-2zM818 939h2v2h-2zM745 920h2v2h-2zM821 934h2v2h-2zM775 914h2v2h-2zM859 927h2v2h-2zM706 947h2v2h-2zM730 943h2v2h-2zM825 906h2v2h-2zM711 932h2v2h-2zM862 983h2v2h-2zM836 893h2v2h-2zM718 932h2v2h-2zM718 995h2v2h-2zM839 904h2v2h-2zM741 944h2v2h-2zM870 921h2v2h-2zM794 897h2v2h-2zM759 929h2v2h-2zM805 986h2v2h-2zM861 965h2v2h-2zM821 926h2v2h-2zM787 916h2v2h-2zM713 996h2v2h-2zM730 961h2v2h-2zM726 921h2v2h-2zM806 990h2v2h-2zM827 985h2v2h-2zM776 934h2v2h-2zM825 985h2v2h-2zM864 978h2v2h-2zM701 957h2v2h-2zM863 902h2v2h-2zM859 901h2v2h-2zM758 894h2v2h-2zM811 898h2v2h-2zM763 977h2v2h-2zM787 967h2v2h-2zM805 964h2v2h-2zM851 907h2v2h-2zM814 925h2v2h-2zM797 951h2v2h-2zM745 947h2v2h-2z" fill="#e8e63a"/>
<path d="M794 952h2v2h-2zM710 957h2v2h-2zM715 984h2v2h-2zM805 959h2v2h-2zM821 932h2v2h-2zM867 974h2v2h-2zM817 927h2v2h-2zM775 933h2v2h-2zM843 941h2v2h-2zM870 945h2v2h-2zM760 933h2v2h-2zM847 987h2v2h-2zM716 928h2v2h-2zM817 982h2v2h-2zM833 934h2v2h-2zM808 968h2v2h-2zM775 923h2v2h-2zM716 939h2v2h-2zM791 914h2v2h-2zM823 895h2v2h-2zM810 938h2v2h-2zM760 971h2v2h-2zM745 923h2v2h-2zM843 979h2v2h-2zM823 904h2v2h-2zM776 946h2v2h-2zM761 962h2v2h-2zM866 914h2v2h-2zM746 939h2v2h-2zM846 891h2v2h-2zM872 926h2v2h-2zM867 923h2v2h-2zM744 983h2v2h-2zM820 946h2v2h-2zM849 905h2v2h-2zM795 939h2v2h-2zM700 949h2v2h-2zM795 981h2v2h-2zM791 989h2v2h-2zM722 979h2v2h-2zM712 995h2v2h-2zM862 951h2v2h-2zM830 950h2v2h-2zM824 983h2v2h-2zM723 953h2v2h-2zM755 903h2v2h-2zM770 937h2v2h-2zM814 950h2v2h-2zM853 902h2v2h-2zM858 953h2v2h-2zM723 988h2v2h-2zM722 974h2v2h-2zM872 943h2v2h-2zM787 953h2v2h-2zM730 917h2v2h-2zM736 946h2v2h-2zM707 983h2v2h-2zM782 898h2v2h-2zM739 931h2v2h-2zM712 980h2v2h-2zM716 944h2v2h-2zM721 977h2v2h-2zM732 974h2v2h-2zM804 987h2v2h-2zM822 982h2v2h-2zM783 919h2v2h-2zM735 983h2v2h-2zM789 961h2v2h-2zM821 973h2v2h-2zM856 901h2v2h-2zM718 978h2v2h-2zM727 951h2v2h-2zM752 987h2v2h-2zM871 932h2v2h-2zM819 930h2v2h-2zM701 987h2v2h-2zM743 963h2v2h-2zM865 937h2v2h-2zM739 977h2v2h-2zM750 933h2v2h-2zM839 972h2v2h-2zM840 936h2v2h-2zM855 939h2v2h-2zM800 955h2v2h-2zM845 988h2v2h-2zM791 953h2v2h-2zM800 967h2v2h-2zM870 961h2v2h-2z" fill="#2a8a24"/>
<path d="M806 929h2v2h-2zM866 939h2v2h-2zM779 980h2v2h-2zM814 927h2v2h-2zM801 929h2v2h-2zM856 980h2v2h-2zM720 959h2v2h-2zM823 952h2v2h-2zM808 956h2v2h-2zM748 991h2v2h-2zM758 988h2v2h-2zM755 918h2v2h-2zM776 944h2v2h-2zM847 947h2v2h-2zM789 954h2v2h-2zM825 902h2v2h-2zM793 959h2v2h-2zM786 893h2v2h-2zM781 912h2v2h-2zM735 959h2v2h-2zM783 904h2v2h-2zM843 925h2v2h-2zM803 984h2v2h-2zM862 946h2v2h-2zM812 963h2v2h-2zM711 965h2v2h-2zM780 962h2v2h-2z" fill="#e81038"/>
<path d="M853 808h4v4h-4zM821 746h4v4h-4zM871 820h3v3h-3zM814 738h3v3h-3zM825 744h3v3h-3zM853 790h3v3h-3zM846 775h2v2h-2zM845 769h2v2h-2zM862 821h2v2h-2zM859 802h3v3h-3zM840 773h4v4h-4zM847 786h3v3h-3zM835 760h3v3h-3zM859 805h2v2h-2zM844 786h4v4h-4zM834 772h2v2h-2zM842 763h3v3h-3zM833 767h2v2h-2zM852 810h3v3h-3zM822 744h4v4h-4zM833 766h2v2h-2zM839 763h3v3h-3zM857 809h2v2h-2zM816 750h2v2h-2zM846 774h4v4h-4zM815 738h3v3h-3zM845 774h4v4h-4zM865 812h3v3h-3zM842 785h4v4h-4zM830 758h2v2h-2zM858 821h3v3h-3zM821 756h2v2h-2zM850 800h2v2h-2zM829 765h2v2h-2zM816 739h2v2h-2zM835 762h2v2h-2zM837 761h3v3h-3zM843 791h4v4h-4zM869 823h4v4h-4zM817 738h3v3h-3zM864 827h3v3h-3zM822 741h4v4h-4zM825 758h3v3h-3zM863 810h2v2h-2zM855 799h4v4h-4zM849 777h2v2h-2zM865 820h2v2h-2zM845 771h2v2h-2zM835 755h2v2h-2zM814 742h3v3h-3z" fill="#e8e63a"/>
<path d="M863 826h2v2h-2zM836 763h2v2h-2zM823 746h3v3h-3zM838 783h2v2h-2zM848 779h4v4h-4zM820 746h2v2h-2zM837 768h2v2h-2zM833 768h2v2h-2zM849 787h2v2h-2zM868 820h3v3h-3zM856 805h3v3h-3zM834 777h2v2h-2zM819 743h2v2h-2zM843 780h4v4h-4zM823 746h3v3h-3zM838 784h4v4h-4zM826 747h4v4h-4zM838 784h4v4h-4zM862 810h2v2h-2zM847 797h4v4h-4zM834 760h2v2h-2zM865 818h2v2h-2zM869 825h3v3h-3zM829 756h2v2h-2zM836 760h2v2h-2zM819 743h4v4h-4zM850 783h2v2h-2zM835 758h2v2h-2zM818 750h2v2h-2zM816 749h4v4h-4zM846 769h4v4h-4zM857 815h3v3h-3zM833 765h3v3h-3zM853 811h3v3h-3zM862 814h3v3h-3zM838 776h2v2h-2zM860 815h2v2h-2zM865 814h2v2h-2zM837 757h2v2h-2zM815 741h4v4h-4zM841 768h3v3h-3zM864 822h3v3h-3zM819 744h2v2h-2z" fill="#e81038"/>
<path d="M825 745h2v2h-2zM847 780h4v4h-4zM833 754h4v4h-4zM855 813h2v2h-2zM822 756h3v3h-3zM812 739h2v2h-2zM821 754h4v4h-4zM811 738h2v2h-2zM832 765h3v3h-3zM866 830h4v4h-4zM842 790h3v3h-3zM859 810h3v3h-3zM840 788h4v4h-4z" fill="#dd8a1c"/>
<path d="M851 807h3v3h-3zM842 778h4v4h-4zM845 798h2v2h-2zM836 758h4v4h-4zM842 793h4v4h-4zM825 747h3v3h-3zM867 815h4v4h-4zM875 827h4v4h-4zM825 760h2v2h-2zM845 789h3v3h-3zM843 781h4v4h-4zM862 829h4v4h-4zM820 740h4v4h-4zM836 758h3v3h-3zM852 809h3v3h-3zM825 749h4v4h-4zM843 783h2v2h-2zM850 792h4v4h-4zM820 745h2v2h-2zM858 822h2v2h-2zM858 814h2v2h-2zM844 791h3v3h-3zM817 739h4v4h-4zM839 764h2v2h-2zM828 752h4v4h-4zM814 741h2v2h-2zM836 765h2v2h-2zM849 776h3v3h-3zM856 796h2v2h-2zM838 774h4v4h-4zM841 770h2v2h-2zM833 752h3v3h-3zM861 815h3v3h-3z" fill="#54ec3e"/>
<path d="M843 786h4v4h-4zM838 757h3v3h-3zM855 799h4v4h-4zM864 824h4v4h-4zM850 784h4v4h-4zM819 746h3v3h-3zM850 810h2v2h-2zM858 811h2v2h-2zM839 765h2v2h-2z" fill="#dd0099"/>
<path d="M824 813h2v2h-2zM821 801h2v2h-2zM832 806h2v2h-2zM837 822h2v2h-2zM832 828h2v2h-2zM829 799h3v3h-3zM835 815h2v2h-2zM832 808h3v3h-3z" fill="#54ec3e"/>
<path d="M840 829h3v3h-3zM828 809h3v3h-3z" fill="#dd0099"/>
<path d="M828 810h3v3h-3zM835 818h2v2h-2zM831 813h2v2h-2zM831 821h2v2h-2zM832 819h2v2h-2zM831 808h2v2h-2zM828 814h3v3h-3zM832 826h3v3h-3zM827 806h3v3h-3zM833 812h2v2h-2zM831 807h2v2h-2zM829 803h3v3h-3zM835 817h3v3h-3zM833 807h3v3h-3zM830 832h3v3h-3zM829 801h2v2h-2zM834 806h2v2h-2zM834 810h2v2h-2zM827 802h3v3h-3z" fill="#e8e63a"/>
<path d="M831 817h3v3h-3zM828 810h2v2h-2zM834 827h2v2h-2zM829 811h3v3h-3zM838 825h3v3h-3zM831 810h2v2h-2zM832 802h2v2h-2z" fill="#e81038"/>
<path d="M826 801h3v3h-3zM831 805h3v3h-3zM827 816h3v3h-3z" fill="#dd8a1c"/>
<path d="M808 713h3v3h-3zM812 703h3v3h-3zM809 707h3v3h-3zM813 701h3v3h-3zM803 708h3v3h-3zM805 701h2v2h-2zM809 711h2v2h-2zM806 705h2v2h-2zM803 704h3v3h-3zM808 700h3v3h-3zM815 705h2v2h-2zM812 704h3v3h-3zM811 708h2v2h-2z" fill="#e8e63a"/>
<path d="M809 707h3v3h-3zM804 712h2v2h-2zM800 700h2v2h-2zM811 707h3v3h-3zM814 712h2v2h-2zM802 709h3v3h-3zM808 711h3v3h-3zM817 710h3v3h-3zM812 712h2v2h-2zM806 708h3v3h-3zM809 702h3v3h-3zM811 714h2v2h-2zM814 714h3v3h-3zM809 713h2v2h-2zM816 706h2v2h-2zM805 710h3v3h-3zM813 713h3v3h-3zM809 709h2v2h-2zM815 704h3v3h-3zM812 714h2v2h-2zM803 705h2v2h-2zM813 707h2v2h-2zM811 704h2v2h-2zM810 706h3v3h-3zM801 702h3v3h-3zM811 711h3v3h-3zM805 700h2v2h-2zM811 701h2v2h-2zM807 702h2v2h-2zM811 708h2v2h-2zM803 704h3v3h-3zM808 703h3v3h-3zM814 714h3v3h-3zM810 709h3v3h-3zM809 701h3v3h-3z" fill="#54ec3e"/>
<path d="M815 704h3v3h-3zM806 714h3v3h-3zM810 706h3v3h-3zM811 702h3v3h-3zM809 702h3v3h-3zM812 713h2v2h-2zM807 702h2v2h-2zM813 712h2v2h-2zM816 707h3v3h-3zM802 706h3v3h-3zM801 702h2v2h-2zM808 703h2v2h-2zM809 703h2v2h-2zM815 704h3v3h-3zM815 698h3v3h-3zM802 701h3v3h-3zM803 707h2v2h-2z" fill="#2a8a24"/>
<path d="M761 843h2v2h-2zM766 842h2v2h-2zM770 846h2v2h-2zM761 848h2v2h-2zM767 867h2v2h-2zM752 847h3v3h-3zM763 847h3v3h-3zM751 866h2v2h-2zM761 861h2v2h-2zM774 862h3v3h-3zM751 863h2v2h-2zM753 847h3v3h-3zM773 859h3v3h-3zM780 852h3v3h-3zM757 845h3v3h-3zM777 847h2v2h-2zM771 851h2v2h-2zM766 848h2v2h-2zM772 861h2v2h-2zM753 863h2v2h-2zM768 858h2v2h-2zM771 839h3v3h-3zM745 851h3v3h-3zM769 845h3v3h-3zM777 857h3v3h-3zM768 856h3v3h-3zM758 863h3v3h-3zM770 863h2v2h-2z" fill="#dd8a1c"/>
<path d="M775 855h3v3h-3zM763 866h2v2h-2zM761 848h3v3h-3zM775 849h3v3h-3zM766 864h3v3h-3zM748 848h3v3h-3zM764 864h3v3h-3zM778 859h3v3h-3z" fill="#dd0099"/>
<path d="M758 866h2v2h-2zM770 837h3v3h-3zM753 862h3v3h-3zM760 841h2v2h-2zM776 837h3v3h-3zM762 858h2v2h-2zM758 860h2v2h-2zM773 855h3v3h-3zM752 850h2v2h-2zM752 862h2v2h-2zM776 835h3v3h-3zM762 854h2v2h-2zM767 854h3v3h-3zM770 840h2v2h-2zM765 849h3v3h-3zM755 867h2v2h-2zM752 852h2v2h-2zM758 856h3v3h-3zM756 860h3v3h-3zM771 857h3v3h-3zM767 851h3v3h-3zM749 846h2v2h-2zM768 846h3v3h-3zM770 865h3v3h-3zM750 847h3v3h-3zM751 852h3v3h-3zM764 850h2v2h-2zM753 842h2v2h-2zM751 858h2v2h-2zM765 852h3v3h-3zM750 862h3v3h-3zM771 847h2v2h-2zM766 853h2v2h-2zM761 837h2v2h-2zM759 864h2v2h-2zM756 855h3v3h-3zM761 839h3v3h-3zM760 861h3v3h-3zM749 849h2v2h-2zM777 844h3v3h-3zM755 861h2v2h-2zM769 853h3v3h-3zM752 853h2v2h-2zM752 854h3v3h-3zM752 844h2v2h-2zM757 841h2v2h-2zM762 847h3v3h-3zM751 857h2v2h-2zM764 859h2v2h-2zM765 861h2v2h-2zM750 852h2v2h-2zM768 854h2v2h-2zM762 867h2v2h-2zM769 850h3v3h-3zM756 860h3v3h-3zM751 856h3v3h-3zM766 867h2v2h-2zM745 852h2v2h-2zM754 849h2v2h-2z" fill="#e8e63a"/>
<path d="M763 861h3v3h-3zM774 868h2v2h-2zM758 840h3v3h-3zM762 861h3v3h-3zM748 859h2v2h-2zM764 839h2v2h-2zM756 854h3v3h-3zM764 860h2v2h-2zM747 851h2v2h-2zM761 851h2v2h-2zM758 842h2v2h-2zM767 837h3v3h-3zM753 864h2v2h-2zM777 846h3v3h-3zM773 865h3v3h-3zM766 863h2v2h-2zM773 856h2v2h-2zM752 846h3v3h-3zM761 847h2v2h-2zM751 859h2v2h-2zM763 851h3v3h-3zM759 859h3v3h-3zM776 846h2v2h-2zM778 860h2v2h-2zM766 848h2v2h-2zM747 855h3v3h-3zM748 857h3v3h-3zM771 838h2v2h-2zM775 854h2v2h-2zM773 854h2v2h-2zM778 841h3v3h-3zM775 861h3v3h-3zM772 857h3v3h-3zM761 840h2v2h-2zM767 857h2v2h-2zM756 853h3v3h-3zM760 840h2v2h-2zM768 854h3v3h-3zM755 853h2v2h-2z" fill="#e81038"/>
<path d="M755 854h2v2h-2zM766 855h3v3h-3zM769 845h2v2h-2zM753 866h3v3h-3zM759 845h3v3h-3zM758 866h2v2h-2zM775 837h2v2h-2zM763 838h2v2h-2zM761 863h2v2h-2zM769 849h2v2h-2zM759 853h3v3h-3zM752 856h2v2h-2zM763 855h3v3h-3zM773 848h3v3h-3zM766 868h3v3h-3zM760 852h3v3h-3zM750 866h3v3h-3zM769 849h3v3h-3zM761 841h3v3h-3zM777 855h3v3h-3zM770 844h3v3h-3zM755 845h2v2h-2zM775 846h2v2h-2zM766 843h3v3h-3zM751 856h2v2h-2zM768 854h3v3h-3zM775 843h3v3h-3zM769 846h2v2h-2zM764 865h3v3h-3zM779 856h3v3h-3zM746 851h3v3h-3zM777 861h3v3h-3zM764 852h2v2h-2zM769 848h3v3h-3zM759 853h3v3h-3zM763 857h3v3h-3zM748 849h3v3h-3zM766 865h3v3h-3z" fill="#54ec3e"/>
<path d="M861 844h3v3h-3zM865 849h3v3h-3zM862 841h2v2h-2zM867 855h3v3h-3zM862 840h2v2h-2zM863 839h3v3h-3zM861 852h3v3h-3zM870 849h3v3h-3zM864 845h2v2h-2zM859 843h3v3h-3zM869 855h2v2h-2zM859 840h3v3h-3z" fill="#e8e63a"/>
<path d="M863 854h3v3h-3zM867 850h3v3h-3zM868 846h3v3h-3zM867 854h2v2h-2zM872 848h3v3h-3zM870 847h2v2h-2zM862 858h2v2h-2zM861 845h2v2h-2zM863 842h2v2h-2zM865 846h3v3h-3z" fill="#54ec3e"/>
<path d="M869 851h2v2h-2zM871 854h2v2h-2zM859 840h3v3h-3zM872 855h2v2h-2zM868 854h2v2h-2zM867 845h3v3h-3zM859 845h3v3h-3zM864 841h2v2h-2zM868 846h3v3h-3zM867 854h2v2h-2zM866 850h3v3h-3zM862 841h3v3h-3zM861 849h3v3h-3zM864 850h2v2h-2zM869 845h2v2h-2zM862 852h3v3h-3zM872 854h2v2h-2zM868 852h2v2h-2zM859 844h3v3h-3z" fill="#e81038"/>
<path d="M867 856h2v2h-2zM864 846h3v3h-3zM870 854h3v3h-3zM862 846h3v3h-3z" fill="#dd0099"/>
<path d="M865 847h2v2h-2zM872 855h3v3h-3zM869 841h3v3h-3z" fill="#dd8a1c"/>
<path d="M937 788h2v2h-2zM938 797h2v2h-2zM925 796h2v2h-2zM923 799h3v3h-3zM940 796h3v3h-3zM921 788h3v3h-3zM932 800h2v2h-2zM938 799h3v3h-3zM924 804h3v3h-3zM940 781h3v3h-3zM929 799h3v3h-3zM940 792h2v2h-2zM938 798h2v2h-2zM927 786h3v3h-3zM922 785h3v3h-3zM920 803h2v2h-2zM919 787h2v2h-2zM930 799h2v2h-2z" fill="#e8e63a"/>
<path d="M938 782h3v3h-3zM938 799h2v2h-2zM930 801h3v3h-3zM927 785h2v2h-2zM943 794h3v3h-3zM932 803h3v3h-3zM930 794h3v3h-3zM929 784h2v2h-2zM938 801h2v2h-2zM930 787h3v3h-3zM943 800h2v2h-2zM932 782h3v3h-3zM921 793h3v3h-3zM923 798h3v3h-3zM920 790h2v2h-2zM934 786h2v2h-2zM921 799h2v2h-2zM916 787h2v2h-2zM936 791h2v2h-2zM940 783h2v2h-2zM929 798h2v2h-2zM940 800h2v2h-2zM918 792h3v3h-3zM927 788h2v2h-2zM924 791h2v2h-2zM938 801h3v3h-3zM938 787h2v2h-2zM940 787h3v3h-3zM940 788h3v3h-3z" fill="#54ec3e"/>
<path d="M940 784h3v3h-3zM927 795h2v2h-2zM920 800h2v2h-2zM941 792h2v2h-2zM932 786h3v3h-3zM940 788h2v2h-2z" fill="#e81038"/>
<path d="M636 948h3v3h-3zM646 952h2v2h-2zM639 954h2v2h-2zM649 950h2v2h-2zM651 955h3v3h-3zM648 955h2v2h-2zM638 958h3v3h-3zM640 951h2v2h-2zM638 952h2v2h-2zM642 949h2v2h-2zM652 959h2v2h-2zM645 959h3v3h-3zM644 955h3v3h-3z" fill="#54ec3e"/>
<path d="M645 950h2v2h-2zM642 957h2v2h-2zM649 960h2v2h-2zM645 953h2v2h-2zM644 953h2v2h-2zM645 952h2v2h-2zM650 961h2v2h-2zM649 960h3v3h-3zM644 952h3v3h-3zM653 960h2v2h-2zM637 949h2v2h-2zM648 962h2v2h-2zM642 961h3v3h-3zM653 961h3v3h-3zM642 958h2v2h-2z" fill="#e8e63a"/>
<path d="M649 953h2v2h-2zM653 962h2v2h-2zM651 948h2v2h-2zM647 959h3v3h-3zM651 954h3v3h-3zM647 951h3v3h-3zM640 961h2v2h-2zM648 955h2v2h-2zM653 960h3v3h-3zM651 954h3v3h-3zM648 956h2v2h-2z" fill="#e81038"/>
<path d="M651 954h2v2h-2zM643 948h3v3h-3z" fill="#dd0099"/>
<path d="M647 953h2v2h-2zM653 961h3v3h-3zM642 956h3v3h-3zM645 947h2v2h-2z" fill="#dd8a1c"/>
<path d="M891 997h2v2h-2zM896 995h3v3h-3zM898 1006h3v3h-3zM902 1004h2v2h-2zM893 993h2v2h-2zM894 1005h2v2h-2zM894 1002h2v2h-2zM898 1005h2v2h-2zM903 996h3v3h-3zM889 1002h2v2h-2zM892 993h3v3h-3zM888 998h3v3h-3zM903 1003h3v3h-3zM899 1003h2v2h-2zM892 994h3v3h-3zM892 1004h2v2h-2z" fill="#e81038"/>
<path d="M895 1005h3v3h-3zM901 1000h2v2h-2zM891 991h2v2h-2zM902 991h2v2h-2zM899 997h2v2h-2zM891 1002h3v3h-3zM893 1005h2v2h-2zM898 1000h2v2h-2zM894 995h3v3h-3zM894 992h3v3h-3zM895 1006h2v2h-2zM890 1004h3v3h-3zM902 996h2v2h-2zM887 998h2v2h-2zM893 1004h3v3h-3zM886 996h2v2h-2zM898 1001h3v3h-3zM899 1004h2v2h-2zM886 993h2v2h-2zM893 1005h2v2h-2zM904 1001h3v3h-3z" fill="#e8e63a"/>
<path d="M893 991h2v2h-2zM886 992h2v2h-2zM905 997h3v3h-3zM893 1001h2v2h-2zM887 1001h2v2h-2zM897 1000h3v3h-3zM901 993h3v3h-3zM890 997h2v2h-2zM905 1002h2v2h-2zM897 1003h3v3h-3zM888 995h3v3h-3z" fill="#54ec3e"/>
<path d="M904 996h2v2h-2zM886 1004h2v2h-2zM891 1001h3v3h-3zM886 997h2v2h-2z" fill="#dd8a1c"/>
<path d="M899 991h3v3h-3zM886 1005h2v2h-2zM892 1001h3v3h-3zM890 994h2v2h-2z" fill="#dd0099"/>
<path d="M702 943h3v3h-3zM703 943h2v2h-2zM705 952h3v3h-3zM714 990h2v2h-2zM723 991h2v2h-2zM705 962h2v2h-2zM720 971h2v2h-2zM701 963h2v2h-2zM703 957h2v2h-2zM706 965h2v2h-2zM711 992h2v2h-2zM705 953h2v2h-2zM713 962h3v3h-3zM723 982h2v2h-2zM710 996h2v2h-2zM716 960h3v3h-3zM707 981h2v2h-2zM708 950h2v2h-2zM704 962h3v3h-3zM706 983h3v3h-3zM712 990h3v3h-3zM710 979h3v3h-3zM712 968h3v3h-3zM704 990h3v3h-3zM723 994h3v3h-3zM723 999h3v3h-3zM719 947h3v3h-3zM720 996h3v3h-3zM709 942h2v2h-2zM707 965h2v2h-2zM714 948h3v3h-3zM720 936h3v3h-3zM704 979h2v2h-2zM704 987h3v3h-3zM715 948h3v3h-3zM705 970h2v2h-2zM705 973h2v2h-2zM712 987h2v2h-2zM717 999h3v3h-3zM717 970h2v2h-2zM702 953h2v2h-2zM711 946h2v2h-2zM704 995h2v2h-2zM716 965h3v3h-3zM706 948h3v3h-3zM711 950h3v3h-3zM716 986h3v3h-3zM703 949h3v3h-3zM704 963h3v3h-3zM710 968h2v2h-2zM704 992h2v2h-2zM704 950h3v3h-3zM708 955h3v3h-3zM702 960h2v2h-2zM706 944h2v2h-2zM717 991h2v2h-2zM711 999h3v3h-3zM714 996h3v3h-3zM715 946h3v3h-3zM711 998h2v2h-2zM706 971h2v2h-2zM700 972h2v2h-2zM717 981h3v3h-3zM702 969h3v3h-3zM715 939h2v2h-2zM713 967h2v2h-2zM719 971h2v2h-2zM716 940h2v2h-2zM703 940h3v3h-3zM714 945h2v2h-2zM718 936h2v2h-2zM705 971h3v3h-3zM705 963h2v2h-2zM713 954h3v3h-3zM720 973h3v3h-3zM707 987h3v3h-3zM708 957h3v3h-3zM715 958h3v3h-3zM719 990h2v2h-2zM710 995h3v3h-3zM709 970h3v3h-3zM710 962h3v3h-3zM710 998h2v2h-2zM714 968h2v2h-2zM706 977h3v3h-3zM714 999h3v3h-3zM712 1000h2v2h-2zM714 984h2v2h-2zM701 984h3v3h-3zM710 972h3v3h-3zM706 955h2v2h-2zM703 998h3v3h-3zM708 992h3v3h-3zM719 959h3v3h-3zM702 990h3v3h-3zM721 953h2v2h-2z" fill="#54ec3e"/>
<path d="M708 990h2v2h-2zM719 946h3v3h-3zM706 960h2v2h-2zM704 959h3v3h-3zM720 949h2v2h-2zM712 957h2v2h-2zM723 973h3v3h-3zM712 954h3v3h-3zM723 977h2v2h-2zM706 942h3v3h-3zM706 960h2v2h-2zM704 994h2v2h-2zM714 964h3v3h-3zM720 978h2v2h-2zM714 938h2v2h-2zM700 943h3v3h-3zM714 956h2v2h-2zM701 983h3v3h-3zM719 966h2v2h-2zM706 970h3v3h-3zM719 979h2v2h-2zM701 989h3v3h-3zM710 940h2v2h-2zM719 942h3v3h-3zM711 947h2v2h-2zM710 971h3v3h-3zM707 982h3v3h-3zM711 956h3v3h-3zM716 965h2v2h-2zM718 936h3v3h-3zM710 940h2v2h-2zM718 945h2v2h-2zM721 981h3v3h-3zM701 963h2v2h-2zM723 973h2v2h-2zM703 978h2v2h-2zM706 946h2v2h-2zM705 989h3v3h-3zM715 964h3v3h-3zM717 954h3v3h-3z" fill="#2a8a24"/>
<g filter="url(#jagMap)"><path d="M662.0,1035.0 L690.0,1028.0 L720.0,1030.0 L745.0,1045.0 L749.0,1075.0 L720.0,1082.0 L690.0,1072.0 L668.0,1062.0 Z" fill="#40c436" /><path d="M680.0,1040.0 L700.0,1034.0 L712.0,1045.0 L700.0,1060.0 L685.0,1058.0 Z" fill="#2a8a24" opacity="0.6"/><path d="M665.0,1036.6 L693.4,1036.6 L717.5,1049.1 L713.3,1061.7 L681.9,1061.7 L671.4,1053.3 Z" fill="#e8e63a" /><path d="M685.0,1048.0 L700.0,1046.0 L710.0,1055.0 L700.0,1060.0 L688.0,1058.0 Z" fill="#dd8a1c" opacity="0.7"/><path d="M717.9,1059.5 L740.0,1062.0 L749.2,1075.2 L720.0,1075.2 Z" fill="#d6d432" /><path d="M722.0,1064.0 L738.0,1065.0 L745.0,1074.0 L725.0,1074.0 Z" fill="#dd8a1c" /></g>
<ellipse cx="697.0" cy="1055.0" rx="3.0" ry="2.5" fill="#e81038" />
<ellipse cx="733.0" cy="1069.0" rx="3.0" ry="2.5" fill="#e81038" />
<g filter="url(#jagMap)"><ellipse cx="800.0" cy="1064.0" rx="6.0" ry="11.0" fill="#54ec3e" /><ellipse cx="835.0" cy="1093.0" rx="10.0" ry="5.0" fill="#54ec3e" /></g>
<g filter="url(#jagMap)"><path d="M376.7,428.7 L387.7,412.2 L404.2,388.3 L417.0,397.5 L428.0,393.8 L446.3,399.3 L444.5,410.3 L431.7,425.0 L424.3,432.3 L409.7,443.3 L391.3,447.0 L380.3,439.7 Z" fill="#2a92c8" /><path d="M357.4,397.5 L369.3,388.3 L384.0,379.2 L395.0,388.3 L395.0,397.5 L387.7,408.5 L373.0,419.5 L362.0,410.3 Z" fill="#54ec3e" /><path d="M369.3,392.0 L384.0,384.7 L393.2,392.0 L385.8,406.7 L373.0,410.3 Z" fill="#2a8a24" /><path d="M380.3,428.7 L389.5,414.0 L413.3,397.5 L426.2,410.3 L424.3,430.5 L409.7,443.3 L389.5,443.3 Z" fill="#54ec3e" /><path d="M400.5,406.7 L413.3,401.2 L422.5,414.0 L413.3,425.0 Z" fill="#2a8a24" /><path d="M391.3,415.8 L409.7,408.5 L417.0,419.5 L407.8,430.5 L395.0,432.3 Z" fill="#e8e63a" /><path d="M378.5,643.2 L387.7,624.8 L400.5,612.0 L428.0,595.5 L450.0,608.3 L475.7,613.8 L468.3,634.0 L453.7,645.0 L435.3,656.0 L417.0,663.3 L400.5,665.2 L384.0,656.0 Z" fill="#2a92c8" /><path d="M380.3,641.3 L389.5,624.8 L417.0,613.8 L431.7,619.3 L442.7,634.0 L435.3,650.5 L417.0,663.3 L398.7,663.3 L382.2,652.3 Z" fill="#54ec3e" /><path d="M385.8,634.0 L396.8,621.2 L413.3,617.5 L429.8,630.3 L426.2,656.0 L409.7,661.5 L391.3,654.2 Z" fill="#e8e63a" /><path d="M387.7,635.8 L398.7,624.8 L417.0,623.0 L422.5,637.7 L413.3,650.5 L395.0,648.7 Z" fill="#dd8a1c" /><path d="M385.8,639.5 L395.0,626.7 L413.3,624.8 L420.7,635.8 L400.5,645.0 L389.5,645.0 Z" fill="#e81038" /><path d="M428.0,687.2 L444.5,663.3 L479.3,652.3 L505.0,645.0 L521.5,646.8 L530.7,659.7 L510.5,672.5 L486.7,681.7 L468.3,703.7 L448.2,705.5 L431.7,696.3 Z" fill="#2a92c8" /><path d="M431.7,687.2 L446.3,670.7 L472.0,657.8 L486.7,670.7 L479.3,689.0 L457.3,703.7 L439.0,700.0 Z" fill="#54ec3e" /><path d="M437.2,681.7 L450.0,670.7 L468.3,667.0 L472.0,681.7 L457.3,694.5 L440.8,692.7 Z" fill="#e8e63a" /><path d="M440.8,685.3 L453.7,674.3 L459.2,674.3 L459.2,689.0 L446.3,692.7 Z" fill="#e81038" /></g>
<g filter="url(#jagMap)"><path d="M696.7,555.1 L702.9,552.6 L713.3,553.4 L712.3,559.7 L700.8,561.3 Z" fill="#2a92c8" /><path d="M704.6,553.4 L712.3,553.4 L711.3,559.7 L705.4,559.7 Z" fill="#54ec3e" /><path d="M717.5,539.4 L725.9,538.4 L726.9,545.7 L718.6,546.7 Z" fill="#3178b0" /><path d="M762.4,609.3 L773.9,601.0 L786.4,596.8 L794.7,594.7 L797.9,603.1 L784.3,611.4 L769.7,613.5 Z" fill="#2a92c8" /><path d="M773.9,605.2 L784.3,603.1 L794.7,598.9 L792.6,603.1 L778.0,607.2 Z" fill="#54ec3e" /><path d="M778.0,651.1 L794.7,649.0 L808.3,646.9 L807.2,655.2 L794.7,661.5 L780.1,663.6 Z" fill="#3178b0" /><path d="M828.1,615.6 L840.0,613.5 L840.0,626.0 L830.2,626.0 Z" fill="#3178b0" /><path d="M807.2,684.4 L821.8,686.5 L826.0,697.0 L821.8,705.3 L815.6,701.1 L809.3,692.8 Z" fill="#2a92c8" /><path d="M790.5,701.1 L803.1,699.1 L807.2,711.6 L798.9,717.8 L792.6,713.7 Z" fill="#40c436" /><path d="M813.5,684.4 L817.7,684.4 L818.7,692.8 L813.9,692.8 Z" fill="#54ec3e" /></g>
<g filter="url(#jagMap)"><path d="M880.1,557.2 L892.6,549.9 L905.1,553.0 L906.2,567.6 L896.8,571.8 L882.2,567.6 Z" fill="#2a92c8" /><path d="M881.1,559.3 L905.1,558.2 L904.1,564.5 L882.2,564.5 Z" fill="#54ec3e" /><path d="M1070.0,613.5 L1080.4,602.0 L1095.0,605.2 L1096.0,615.6 L1084.6,621.8 L1072.0,621.8 Z" fill="#2a92c8" /><path d="M1076.2,607.2 L1084.6,605.2 L1092.9,613.5 L1088.7,617.7 L1078.3,611.4 Z" fill="#54ec3e" /><path d="M830.0,613.5 L842.5,613.5 L842.5,621.8 L832.1,626.0 L830.0,626.0 Z" fill="#3178b0" /><path d="M842.5,649.0 L857.1,649.0 L857.1,658.4 L843.6,658.4 Z" fill="#3178b0" /></g>
<g filter="url(#jagMap)"><path d="M1133.1,963.0 L1139.7,947.6 L1170.4,938.9 L1177.0,930.1 L1185.7,923.5 L1193.4,927.9 L1194.5,952.0 L1181.3,971.7 L1163.8,980.5 L1141.9,984.9 L1135.3,973.9 Z" fill="#2a92c8" /><path d="M1139.7,952.0 L1174.8,943.3 L1182.4,956.4 L1170.4,971.7 L1144.1,978.3 L1138.6,969.6 Z" fill="#54ec3e" /><path d="M1163.8,947.6 L1177.0,947.6 L1179.2,963.0 L1168.2,969.6 Z" fill="#2a8a24" /><path d="M1140.8,954.2 L1148.5,947.6 L1173.7,952.0 L1171.5,965.2 L1159.4,971.7 L1141.9,971.7 Z" fill="#e8e63a" /><path d="M1141.9,956.4 L1152.9,956.4 L1155.1,965.2 L1143.0,967.4 Z" fill="#dd8a1c" /><path d="M1143.0,960.8 L1150.7,960.8 L1150.7,966.3 L1143.0,966.3 Z" fill="#e81038" /><path d="M1205.5,930.1 L1212.0,919.2 L1225.2,917.0 L1223.0,901.6 L1240.5,899.4 L1242.7,881.9 L1262.4,876.4 L1279.9,890.7 L1282.1,903.8 L1273.4,919.2 L1273.4,934.5 L1258.0,952.0 L1240.5,963.0 L1218.6,963.0 L1207.6,952.0 Z" fill="#2a92c8" /><path d="M1244.9,888.5 L1262.4,884.1 L1277.8,895.1 L1279.9,912.6 L1269.0,919.2 L1251.5,914.8 L1244.9,899.4 Z" fill="#54ec3e" /><path d="M1249.3,892.9 L1264.6,888.5 L1273.4,899.4 L1271.2,912.6 L1255.8,912.6 Z" fill="#2a8a24" /><path d="M1255.8,897.2 L1264.6,892.9 L1269.0,908.2 L1260.2,910.4 Z" fill="#e8e63a" /><path d="M1214.2,930.1 L1242.7,921.3 L1269.0,921.3 L1269.0,936.7 L1251.5,952.0 L1233.9,960.8 L1214.2,954.2 Z" fill="#54ec3e" /><path d="M1247.1,925.7 L1264.6,925.7 L1260.2,943.3 L1249.3,947.6 Z" fill="#2a8a24" /><path d="M1216.4,936.7 L1233.9,923.5 L1251.5,921.3 L1249.3,934.5 L1240.5,952.0 L1218.6,956.4 Z" fill="#e8e63a" /><path d="M1218.6,943.3 L1236.1,932.3 L1240.5,938.9 L1233.9,952.0 L1220.8,954.2 Z" fill="#dd8a1c" /><path d="M1223.0,943.3 L1236.1,934.5 L1233.9,947.6 L1225.2,954.2 Z" fill="#e81038" /><path d="M1269.0,952.0 L1282.1,932.3 L1295.3,925.7 L1297.5,914.8 L1312.8,912.6 L1317.2,925.7 L1312.8,952.0 L1304.0,958.6 L1293.1,973.9 L1275.6,976.1 L1266.8,963.0 Z" fill="#2a92c8" /><path d="M1273.4,947.6 L1286.5,936.7 L1299.7,938.9 L1301.9,956.4 L1290.9,967.4 L1275.6,965.2 Z" fill="#54ec3e" /><path d="M1277.8,949.8 L1290.9,943.3 L1295.3,956.4 L1282.1,963.0 Z" fill="#2a8a24" /><path d="M1315.0,930.1 L1321.6,910.4 L1334.7,899.4 L1356.6,895.1 L1363.2,908.2 L1391.7,910.4 L1398.3,917.0 L1396.1,952.0 L1382.9,963.0 L1376.4,973.9 L1328.2,973.9 L1323.8,956.4 L1315.0,947.6 Z" fill="#2a92c8" /><path d="M1365.4,914.8 L1391.7,912.6 L1396.1,925.7 L1393.9,947.6 L1372.0,952.0 Z" fill="#28aad8" /><path d="M1317.2,930.1 L1330.3,910.4 L1345.7,906.0 L1365.4,917.0 L1369.8,936.7 L1391.7,921.3 L1396.1,943.3 L1378.5,956.4 L1365.4,969.6 L1336.9,973.9 L1326.0,956.4 Z" fill="#54ec3e" /><path d="M1343.5,921.3 L1361.0,921.3 L1367.6,947.6 L1356.6,965.2 L1339.1,965.2 L1334.7,943.3 Z" fill="#2a8a24" /><path d="M1317.2,930.1 L1330.3,910.4 L1341.3,908.2 L1345.7,934.5 L1334.7,943.3 L1321.6,943.3 Z" fill="#e8e63a" /><path d="M1341.3,954.2 L1350.1,954.2 L1350.1,969.6 L1343.5,971.7 Z" fill="#e8e63a" /><path d="M1415.8,943.3 L1422.4,927.9 L1437.7,917.0 L1464.0,912.6 L1485.9,910.4 L1494.7,925.7 L1483.7,943.3 L1461.8,947.6 L1448.7,954.2 L1426.7,960.8 L1416.9,958.6 Z" fill="#2a92c8" /><path d="M1422.4,932.3 L1437.7,923.5 L1477.1,923.5 L1477.1,934.5 L1448.7,945.5 L1431.1,947.6 L1422.4,945.5 Z" fill="#54ec3e" /><path d="M1507.8,947.6 L1523.2,943.3 L1529.7,952.0 L1527.5,969.6 L1512.2,969.6 L1506.7,960.8 Z" fill="#2a92c8" /><path d="M1514.4,947.6 L1525.3,945.5 L1527.5,965.2 L1516.6,967.4 Z" fill="#54ec3e" /><path d="M1192.3,901.6 L1205.5,899.4 L1207.6,912.6 L1196.7,912.6 Z" fill="#3178b0" /><path d="M1319.4,862.2 L1332.5,862.2 L1336.9,879.7 L1328.2,879.7 Z" fill="#3178b0" /></g>
<ellipse cx="1146.3" cy="913.7" rx="4.5" ry="4.5" fill="#3178b0" />
<g filter="url(#jagMap)"><ellipse cx="1326.8" cy="869.4" rx="9.0" ry="10.6" fill="#2a92c8" /><ellipse cx="1183.0" cy="861.8" rx="7.5" ry="6.0" fill="#3178b0" /><ellipse cx="1036.0" cy="964.7" rx="6.0" ry="9.1" fill="#2a92c8" /><ellipse cx="1099.9" cy="988.9" rx="9.1" ry="6.1" fill="#3178b0" /><ellipse cx="437.0" cy="889.0" rx="9.0" ry="13.0" fill="#2a92c8" /><ellipse cx="437.0" cy="904.0" rx="7.0" ry="4.0" fill="#3178b0" /><ellipse cx="655.5" cy="1216.0" rx="12.5" ry="9.0" fill="#3178b0" /></g>
<g filter="url(#speckD)"><path d="M1000.0,912.0 L1087.7,907.0 L1085.0,918.0 L1000.0,940.0 Z" fill="#3178b0" /></g>
<ellipse cx="170.0" cy="1075.0" rx="5.5" ry="5.5" fill="#2a92c8" />
<ellipse cx="185.0" cy="1072.0" rx="5.5" ry="5.5" fill="#2a92c8" />
<ellipse cx="205.0" cy="1069.5" rx="5.5" ry="5.5" fill="#2a92c8" />
<ellipse cx="234.7" cy="1066.5" rx="5.5" ry="5.5" fill="#2a92c8" />
<ellipse cx="295.0" cy="1057.0" rx="5.0" ry="4.0" fill="#2a92c8" />
<g filter="url(#speckD)"><path d="M420.0,1046.0 L470.0,1040.0 L504.0,1043.0 L500.0,1052.0 L420.0,1056.0 Z" fill="#3178b0" /></g>
<ellipse cx="380.0" cy="1051.0" rx="12.0" ry="4.0" fill="#3178b0" />
<g fill="none" stroke="#808080" stroke-width="2.6" stroke-linejoin="miter" stroke-linecap="butt">
<path d="M147.0,220.0 L147.0,274.3 L188.6,274.3 L208.7,295.2 L208.7,304.3 L241.2,304.3 L242.0,334.4 L243.3,488.0 L246.2,642.4"/>
<path d="M301.3,220.0 L303.0,332.7"/>
<path d="M242.0,334.4 L456.0,331.9"/>
<path d="M21.0,399.5 L241.2,396.2"/>
<path d="M243.3,488.0 L457.0,485.9"/>
<path d="M21.0,646.6 L459.0,640.3"/>
<path d="M152.3,646.6 L158.6,1036.0"/>
<path d="M154.4,828.6 L461.0,826.5"/>
<path d="M21.0,1384.7 L469.0,1380.0"/>
<path d="M21.0,1582.9 L154.9,1579.6 L291.0,1578.2 L313.6,1599.8 L353.0,1559.9 L356.8,1565.0 L472.0,1563.2"/>
<path d="M154.9,1579.6 L157.7,1758.0"/>
<path d="M471.8,1193.2 L507.0,1204.0 L525.8,1220.4 L532.9,1215.7 L544.6,1227.5 L547.0,1239.2 L563.4,1246.2 L582.2,1255.6 L596.2,1253.3 L610.3,1260.3 L624.4,1254.2 L654.9,1253.3 L676.0,1262.7 L704.2,1283.8 L708.9,1309.6 L725.4,1328.4 L732.4,1342.5 L741.8,1351.9 L770.0,1358.9"/>
<path d="M458.8,236.9 L571.5,348.5 L661.2,438.3 L673.7,427.8 L682.1,438.3 L684.1,444.5 L696.6,461.2 L699.8,465.4 L699.8,475.8 L690.4,484.2 L721.7,515.4 L826.0,653.1 L811.4,715.7 L794.7,726.2 L778.0,742.9 L763.4,761.6 L748.8,774.2 L743.6,783.6 L717.5,757.5 L711.3,761.6 L704.0,740.8 L682.0,763.7 L637.2,719.9 L594.4,676.1 L638.2,633.3 L634.1,629.2 L680.0,584.3 L667.4,571.8 L662.2,573.9 L615.3,523.8 L465.0,671.9"/>
<path d="M484.9,263.0 L527.6,220.2"/>
<path d="M662.2,573.9 L721.7,515.4"/>
<path d="M527.6,220.2 L617.4,302.6"/>
<path d="M571.5,348.5 L670.6,244.2 L698.7,220.2"/>
<path d="M659.1,220.2 L665.3,225.4 L670.6,244.2"/>
<path d="M715.4,220.2 L724.8,228.6 L732.1,220.2"/>
<path d="M732.1,220.2 L775.9,267.2 L768.6,274.5 L782.2,288.0 L790.5,280.7 L796.8,288.0 L830.0,321.4 L842.5,328.7 L833.1,335.0 L836.3,346.5 L876.9,393.4 L867.6,403.8 L872.8,408.0 L861.3,418.4 L844.6,400.7 L830.0,415.3 L782.2,459.1 L780.1,457.0 L721.7,515.4"/>
<path d="M876.9,393.4 L898.9,371.5 L904.1,377.8 L918.7,364.2 L947.9,394.4 L988.6,356.9 L996.9,350.6 L1007.4,340.2 L1042.8,304.7 L1055.3,294.3 L1133.6,220.2"/>
<path d="M890.5,220.2 L904.1,233.8 L917.6,220.2"/>
<path d="M915.5,222.3 L921.8,230.6 L926.0,236.9 L936.4,242.1 L944.8,248.4 L931.2,260.9 L977.1,308.9 L1012.6,273.4 L1042.8,304.7"/>
<path d="M947.9,394.4 L911.4,427.8 L908.2,432.0 L915.5,444.5 L919.7,469.6 L913.5,484.2 L907.2,494.6 L906.2,498.8 L964.6,561.3 L946.8,577.0 L977.1,607.2 L962.5,620.8 L989.6,647.9 L943.7,690.7 L969.8,716.8 L1060.6,630.2 L1090.8,601.0 L1144.0,551.9 L1115.9,523.8 L1138.8,505.0 L1122.1,515.0"/>
<path d="M996.9,350.6 L1140.9,501.9 L1122.1,515.0"/>
<path d="M1107.5,467.5 L1162.8,415.3 L1189.9,443.5 L1184.7,445.6 L1228.5,492.5 L1251.4,515.0 L1263.9,528.0 L1290.0,505.0 L1307.7,484.2 L1328.6,460.2 L1351.5,434.1 L1347.4,427.8 L1353.6,415.3 L1357.8,404.9 L1357.8,394.4 L1370.3,384.0 L1380.7,372.5 L1382.8,361.1 L1387.0,345.4 L1362.0,321.4 L1345.3,304.7 L1311.9,271.3 L1300.4,282.8 L1258.7,239.0 L1269.1,228.6 L1260.8,220.2"/>
<path d="M1170.0,421.6 L1189.8,441.4"/>
<path d="M1345.3,304.7 L1351.5,290.1 L1372.4,311.0 L1389.1,293.2 L1412.0,271.3 L1382.8,241.1 L1397.4,232.7 L1410.0,220.2"/>
<path d="M1328.6,460.2 L1382.8,515.0 L1388.0,518.6 L1373.4,532.1 L1396.4,555.1 L1422.5,531.1 L1416.2,524.8 L1431.9,509.2 L1433.0,505.0 L1441.0,493.0 L1445.4,486.3 L1474.6,515.0 L1564.4,605.2"/>
<path d="M1565.0,350.6 L1563.4,371.5 L1556.0,386.1 L1545.6,402.8 L1537.2,415.3 L1524.7,423.7 L1512.2,434.1 L1499.7,444.5 L1487.2,452.9 L1472.6,467.5 L1458.0,480.0 L1441.3,486.3 L1435.0,492.5 L1430.8,509.2 L1426.6,515.0 L1433.0,505.0"/>
<path d="M1060.6,630.2 L1148.2,718.9 L1176.4,747.0 L1172.2,750.2 L1184.7,765.8 L1187.6,774.1 L1226.9,805.8 L1278.4,746.8 L1366.1,828.5 L1408.5,798.3 L1420.6,825.5 L1435.7,813.4 L1444.8,801.3 L1435.7,792.2 L1484.1,746.8 L1496.2,758.9 L1523.4,765.0 L1562.8,792.2"/>
<path d="M1148.2,718.9 L1203.5,666.7 L1205.6,668.8 L1230.0,644.8 L1254.5,601.0 L1286.8,571.8 L1285.8,565.5 L1246.2,525.9 L1254.5,520.6"/>
<path d="M1222.3,638.5 L1230.5,645.8"/>
<path d="M1254.5,601.0 L1258.7,605.2 L1279.5,627.1 L1266.0,638.5 L1293.1,666.7 L1309.8,649.0 L1341.1,680.3 L1356.7,693.8 L1365.1,685.5 L1374.5,695.9 L1397.4,675.1 L1420.4,697.0 L1435.0,710.5 L1447.5,717.8 L1451.7,728.3 L1466.3,745.0 L1474.6,755.4 L1480.9,761.6 L1501.8,769.0 L1512.2,776.3 L1537.2,786.7 L1553.9,788.8 L1565.0,795.0"/>
<path d="M1463.2,505.0 L1565.0,605.7"/>
<path d="M1466.3,745.0 L1556.0,661.5 L1565.0,655.2"/>
<path d="M1474.6,755.4 L1434.0,797.1 L1437.1,805.0"/>
<path d="M830.0,732.4 L842.5,747.0 L855.0,740.4 L871.7,749.1 L884.3,763.7 L888.4,774.2 L900.9,795.0 L908.8,826.1 L916.7,835.5 L907.2,876.4 L896.2,889.0 L893.1,901.6 L899.4,933.0 L912.0,964.5 L918.2,1014.8 L930.8,1033.6 L946.5,1043.1 L971.7,1055.7 L981.1,1058.8 L981.1,1074.5"/>
<path d="M809.7,714.5 L842.8,744.3"/>
<path d="M969.8,716.8 L898.9,797.1"/>
<path d="M594.3,676.7 L638.4,720.8"/>
<path d="M660.4,785.2 L638.4,807.2 L660.4,829.2 L594.3,895.3 L500.0,983.3 L467.0,1021.0"/>
<path d="M594.3,895.3 L638.4,937.7 L663.5,914.2 L676.1,936.2 L673.0,939.3 L732.7,876.4 L773.6,860.7 L783.0,889.0 L814.5,860.7 L838.1,892.1 L855.3,879.6 L883.6,901.6 L896.2,889.0"/>
<path d="M673.0,939.3 L679.2,951.9 L704.4,967.6 L713.8,983.3 L717.0,995.9"/>
<path d="M792.5,1011.6 L830.2,977.0 L858.5,983.3 L877.4,964.5 L886.8,973.9 L908.8,961.3 L965.4,911.0 L978.0,904.7 L1015.7,870.1 L1018.9,867.0 L1056.6,838.7 L1072.6,842.1 L1093.8,840.6 L1111.9,849.7 L1148.3,878.4 L1175.5,855.8"/>
<path d="M1039.3,650.0 L1000.0,689.3"/>
<path d="M1078.7,650.0 L1148.2,718.9"/>
<path d="M1226.9,650.0 L1205.7,668.2"/>
<path d="M1181.5,775.6 L1180.0,801.3 L1175.5,822.5 L1178.5,843.6 L1175.5,861.8 L1211.8,901.1 L1211.8,937.4 L1223.9,976.8 L1230.0,1028.2 L1233.0,1043.4"/>
<path d="M1278.5,747.0 L1332.8,805.0 L1378.2,873.9 L1405.4,898.1 L1393.3,910.2 L1399.4,925.3 L1417.5,907.2 L1444.8,916.3 L1453.9,940.5 L1462.9,982.8 L1467.5,1001.0"/>
<path d="M1253.5,767.9 L1278.5,747.0"/>
<path d="M1257.6,776.3 L1228.4,805.0"/>
<path d="M1378.2,873.9 L1434.0,797.1"/>
<path d="M1535.5,904.2 L1553.7,922.3 L1553.7,937.4 L1523.4,949.5 L1532.5,976.8 L1544.6,988.8 L1553.7,998.0"/>
<path d="M1535.5,904.2 L1562.8,876.9 L1550.7,855.8 L1562.8,819.4"/>
<path d="M981.1,1058.8 L1010.0,1058.0 L1015.0,1066.0 L1030.0,1066.0 L1065.0,1066.0 L1067.0,1076.0"/>
</g>

<g fill="none" stroke="#ffffff" stroke-linejoin="round" stroke-linecap="round">
<path d="M455.8,218.0 L462.0,700.0 L468.0,1150.0 L477.5,1661.7" stroke-width="4.5"/>
<path d="M477.5,1661.7 L484.0,1668.0 L493.0,1666.4 L502.3,1671.1 L512.0,1668.0 L525.8,1668.8 L544.6,1678.2 L563.4,1685.2 L577.5,1701.6 L591.5,1713.4 L605.6,1732.2 L624.4,1762.0" stroke-width="5"/>
<path d="M19.0,1027.7 L35.0,1029.0 L52.2,1030.6 L66.0,1026.0 L83.5,1027.7 L100.0,1029.0 L121.0,1031.9 L141.9,1040.2 L160.0,1038.0 L175.3,1040.2 L200.3,1046.5 L221.2,1052.8 L246.2,1063.2 L275.5,1079.9 L296.3,1086.2 L317.2,1100.7 L333.9,1113.3 L363.1,1125.8 L379.8,1146.7 L408.5,1164.1 L427.2,1180.5 L441.3,1189.9 L471.8,1193.2" stroke-width="5"/>
<path d="M754.9,1006.1 L763.0,1007.3 L772.2,1007.3 L783.7,1010.7 L795.2,1015.3 L802.2,1024.5 L807.9,1033.8 L807.9,1040.7 L816.0,1047.6 L825.2,1055.7 L841.3,1061.4 L859.8,1066.0 L875.9,1069.5 L887.4,1076.4 L900.0,1074.1 L902.5,1071.4 L915.1,1068.2 L930.8,1074.5 L956.0,1080.8 L978.0,1077.7 L1003.1,1076.1 L1030.3,1076.6 L1060.5,1081.2 L1090.8,1075.1 L1136.2,1073.6 L1181.5,1064.5 L1226.9,1058.5 L1272.3,1049.4 L1317.7,1041.8 L1352.5,1037.3 L1393.3,1031.2 L1438.7,1025.2 L1484.1,1013.1 L1529.5,1005.5 L1570.0,996.0" stroke-width="5.5"/>
<path d="M21.0,1762.0 L23.0,1745.0 L27.0,1718.0 L41.8,1699.0 L54.3,1676.4 L83.5,1674.3 L117.0,1682.6 L125.3,1703.5 L117.0,1711.8 L146.1,1718.0 L177.5,1728.5 L208.8,1745.2 L242.2,1757.7 L250.0,1762.0" stroke-width="5"/>
<path d="M699.6,996.9 L704.2,990.0 L716.9,987.7 L730.7,984.8 L741.1,982.5 L750.3,986.5 L755.5,994.6 L754.9,1006.1" stroke-width="5"/>
<path d="M699.6,996.9 L708.8,1009.6 L716.9,1008.4 L728.4,1009.6 L726.1,1017.6 L735.3,1026.8 L743.4,1029.1 L749.1,1033.8 L744.5,1047.6 L744.5,1061.4 L751.5,1070.6 L753.8,1079.9 L751.5,1096.0 L742.2,1109.8 L744.5,1127.1 L746.8,1138.6 L749.1,1154.8 L754.9,1165.1 L772.2,1169.7 L783.7,1175.5" stroke-width="5.5"/>
<path d="M797.6,1090.2 L806.8,1072.9 L818.3,1070.6 L832.1,1077.6 L834.4,1086.8 L828.7,1091.4 L818.3,1086.8 L806.8,1091.4 L797.6,1090.2" stroke-width="5"/>
<path d="M811.4,1108.7 L827.5,1106.4 L847.1,1109.8 L864.4,1109.8 L870.2,1121.3 L873.6,1138.6 L873.6,1158.2 L864.4,1162.8 L852.9,1149.0 L841.3,1139.8 L824.1,1130.6 L816.0,1121.3 L811.4,1108.7" stroke-width="5"/>
<path d="M818.3,1109.8 L829.8,1121.3 L847.1,1127.1 L858.6,1132.9 L864.4,1144.4" stroke-width="5"/>
<path d="M795.2,1149.0 L806.8,1155.9 L818.3,1160.5 L827.5,1166.3" stroke-width="5"/>
<path d="M750.3,1167.5 L762.9,1173.8 L788.0,1176.3 L806.9,1182.6 L821.9,1191.4 L833.2,1202.7 L832.0,1214.1 L815.7,1215.3 L800.6,1204.0 L790.5,1192.7 L775.4,1186.4 L762.9,1188.9 L765.4,1197.7 L775.4,1206.5 L783.0,1212.8 L795.5,1219.1 L813.1,1226.6 L823.2,1234.2 L818.2,1248.0 L811.9,1263.1 L809.4,1279.4 L805.6,1298.3 L806.9,1310.8 L804.3,1323.4 L803.1,1342.3 L804.3,1366.2 L790.5,1363.6 L777.9,1364.9 L770.4,1359.9 L757.8,1361.1 L759.1,1373.7 L752.8,1380.0 L749.0,1392.6 L749.0,1400.0" stroke-width="5"/>
<path d="M753.5,1380.0 L749.6,1405.9 L747.6,1439.7 L749.6,1469.6 L747.6,1491.4 L729.7,1499.4 L713.7,1513.3 L707.8,1531.2 L715.7,1555.1 L723.7,1575.0 L739.6,1589.0 L753.5,1598.9 L771.4,1608.9 L789.4,1620.8 L791.3,1636.7 L779.4,1650.6 L771.4,1664.6 L763.5,1690.4 L755.5,1710.3 L735.6,1722.3 L709.8,1736.2 L675.9,1756.1" stroke-width="5"/>
<path d="M803.3,1465.6 L811.2,1491.4 L817.2,1509.4" stroke-width="6"/>
<path d="M791.3,1545.2 L803.3,1559.1 L795.3,1579.0 L779.4,1598.9 L775.4,1590.9 L787.4,1569.1 L791.3,1545.2" stroke-width="5"/>
</g>
<g fill="#fff"><path d="M697.3,997.0 L700.5,988.1 L708.3,989.1 L716.2,986.0 L731.9,985.5 L741.3,980.2 L750.2,983.4 L756.0,989.7 L758.1,998.6 L757.6,1002.8 L773.8,1005.4 L790.0,1011.7 L790.0,1020.6 L783.2,1016.4 L771.2,1014.8 L776.4,1027.4 L778.0,1032.6 L774.9,1037.9 L763.3,1040.5 L755.5,1044.7 L750.2,1050.4 L747.6,1064.1 L752.9,1075.0 L747.6,1075.0 L745.5,1064.1 L745.0,1048.3 L739.8,1043.1 L734.5,1032.6 L726.7,1022.1 L724.0,1015.9 L726.7,1011.7 L719.3,1007.5 L714.1,1011.7 L709.9,1014.8 L704.7,1011.7 L702.6,1004.3 L697.9,999.6 Z"/><path d="M745.6,1517.3 L767.5,1523.3 L759.5,1539.2 L745.6,1537.2 Z"/><path d="M789.4,1427.8 L799.3,1425.8 L807.3,1431.7 L799.3,1437.7 Z"/></g>
<g fill="#3a6ea8"><path d="M705.2,996.0 L716.2,993.9 L730.9,996.0 L741.9,988.1 L747.6,990.7 L752.9,1004.3 L745.0,998.6 L737.1,997.0 L730.9,1000.1 L721.4,1001.2 L709.9,1001.2 Z"/><path d="M754.4,1014.8 L759.1,1012.7 L762.3,1022.1 L759.1,1024.2 L755.5,1016.9 Z"/></g>
<g fill="none" stroke="#c8c8c8" stroke-width="2.5" stroke-linejoin="round"><path d="M813.2,1465.6 L831.1,1479.5 L833.1,1537.2 L815.2,1501.4"/><path d="M807.3,1551.1 L829.2,1577.0 L807.3,1614.8 L793.3,1612.8 L791.3,1596.9 L779.4,1598.9"/><path d="M745.6,1626.8 L751.5,1638.7 L747.6,1650.6 L787.4,1634.7 L769.5,1634.7 L769.5,1620.8"/><path d="M827.5,1089.1 L843.7,1093.7 L839.0,1101.8 L827.5,1100.6"/></g>
<ellipse cx="759" cy="1067" rx="4.5" ry="10" transform="rotate(25 759 1067)" fill="#fff"/>
<g fill="#fff"><circle cx="779.1" cy="1082.2" r="4.5"/><circle cx="741.6" cy="1545.2" r="3"/><circle cx="796.8" cy="1385.0" r="3"/></g>
<circle cx="793.3" cy="988.5" r="742" fill="none" stroke="#fff" stroke-width="2.6"/>
<g fill="#fff"><circle cx="207.5" cy="273.3" r="7.2"/>
<circle cx="574.3" cy="311.4" r="7.2"/>
<circle cx="723.3" cy="400.3" r="7.2"/>
<circle cx="382.3" cy="445.4" r="7.2"/>
<circle cx="128.1" cy="532.2" r="7.2"/>
<circle cx="419" cy="628.2" r="7.2"/>
<circle cx="728.3" cy="602.3" r="7.2"/>
<circle cx="856" cy="553.1" r="7.2"/>
<circle cx="1040" cy="482.1" r="7.2"/>
<circle cx="1164" cy="585.2" r="7.2"/>
<circle cx="1430.2" cy="329.4" r="7.2"/>
<circle cx="1299.2" cy="364" r="7.2"/>
<circle cx="1434.4" cy="634" r="7.2"/>
<circle cx="1357" cy="758.3" r="7.2"/>
<circle cx="893.1" cy="784.6" r="7.2"/>
<circle cx="450.8" cy="768.1" r="7.2"/>
<circle cx="125.2" cy="861.2" r="7.2"/>
<circle cx="1301" cy="872.4" r="7.2"/>
<circle cx="766.7" cy="983.3" r="7.2"/>
<circle cx="51.5" cy="1031" r="7.2"/>
<circle cx="279" cy="1082" r="7.2"/>
<circle cx="1352.5" cy="1035.8" r="7.2"/>
<circle cx="1025.7" cy="1076.6" r="7.2"/>
<circle cx="674.2" cy="1168.8" r="7.2"/>
<circle cx="654" cy="1251.9" r="7.2"/>
<circle cx="673.2" cy="1485.2" r="7.2"/>
<circle cx="577.5" cy="1701.6" r="7.2"/></g>
<g font-family="Liberation Mono" font-size="33.4" fill="#fff">
<text x="215.3" y="262.8" textLength="183.0" lengthAdjust="spacingAndGlyphs">SANTA ROSA</text>
<text x="582.1" y="300.9" textLength="183.0" lengthAdjust="spacingAndGlyphs">SALLIQUELÓ</text>
<text x="731.1" y="389.8" textLength="128.1" lengthAdjust="spacingAndGlyphs">GUAMINÍ</text>
<text x="390.1" y="434.9" textLength="146.4" lengthAdjust="spacingAndGlyphs">MACACHÍN</text>
<text x="135.9" y="521.7" textLength="183.0" lengthAdjust="spacingAndGlyphs">GRAL. ACHA</text>
<text x="426.8" y="617.7" textLength="164.7" lengthAdjust="spacingAndGlyphs">GUATRACHÉ</text>
<text x="736.1" y="591.8" textLength="91.5" lengthAdjust="spacingAndGlyphs">PIGÜÉ</text>
<text x="863.8" y="542.6" textLength="219.6" lengthAdjust="spacingAndGlyphs">CNEL. SUAREZ</text>
<text x="1047.8" y="471.6" textLength="256.2" lengthAdjust="spacingAndGlyphs">GRAL. LAMADRID</text>
<text x="1171.8" y="574.7" textLength="128.1" lengthAdjust="spacingAndGlyphs">LAPRIDA</text>
<text x="1438.0" y="318.9" textLength="73.2" lengthAdjust="spacingAndGlyphs">AZUL</text>
<text x="1307.0" y="353.5" textLength="164.7" lengthAdjust="spacingAndGlyphs">OLAVARRÍA</text>
<text x="1442.2" y="623.5" textLength="109.8" lengthAdjust="spacingAndGlyphs">BENITO</text>
<text x="1364.8" y="747.8" textLength="164.7" lengthAdjust="spacingAndGlyphs">G. CHAVEZ</text>
<text x="900.9" y="774.1" textLength="366.0" lengthAdjust="spacingAndGlyphs">SIERRA DE LA VENTANA</text>
<text x="458.6" y="757.6" textLength="237.9" lengthAdjust="spacingAndGlyphs">JACINTO ARAUZ</text>
<text x="133.0" y="850.7" textLength="201.3" lengthAdjust="spacingAndGlyphs">CUCHILLO-CÓ</text>
<text x="1308.8" y="861.9" textLength="219.6" lengthAdjust="spacingAndGlyphs">TRES ARROYOS</text>
<text x="774.5" y="972.8" textLength="219.6" lengthAdjust="spacingAndGlyphs">BAHÍA BLANCA</text>
<text x="59.3" y="1020.5" textLength="237.9" lengthAdjust="spacingAndGlyphs">PICHI MAHUIDA</text>
<text x="286.8" y="1071.5" textLength="219.6" lengthAdjust="spacingAndGlyphs">RÍO COLORADO</text>
<text x="1360.3" y="1025.3" textLength="164.7" lengthAdjust="spacingAndGlyphs">CLAROMECÓ</text>
<text x="1033.5" y="1066.1" textLength="237.9" lengthAdjust="spacingAndGlyphs">MONTE HERMOSO</text>
<text x="682.0" y="1158.3" textLength="292.8" lengthAdjust="spacingAndGlyphs">MAYOR BURATOVICH</text>
<text x="661.8" y="1241.4" textLength="183.0" lengthAdjust="spacingAndGlyphs">PEDRO LURO</text>
<text x="681.0" y="1474.7" textLength="146.4" lengthAdjust="spacingAndGlyphs">STROEDER</text>
<text x="585.3" y="1691.1" textLength="109.8" lengthAdjust="spacingAndGlyphs">VIEDMA</text>
</g>
<rect x="26.5" y="1652" width="330.5" height="101.5" fill="#676767" fill-opacity="0.88"/>
<rect x="39" y="1666.3" width="304.5" height="72.5" fill="none" stroke="#ffa500" stroke-width="5"/>
<g font-family="Liberation Mono" font-size="22.2" fill="#fff">
<text x="51" y="1696.7" textLength="279" lengthAdjust="spacingAndGlyphs">Avisos Meteorológicos</text>
<text x="51" y="1723.3" textLength="226" lengthAdjust="spacingAndGlyphs">a Muy Corto Plazo</text>
</g>
</g>

<!-- right panel -->
<rect x="1568" y="219" width="150" height="1540" fill="#1b1b1b"/>
<g clip-path="url(#cRight)">
<g filter="url(#jagRight)"><path d="M1593.0,447.5 L1593.0,385.0 L1610.0,378.1 L1650.0,380.0 L1670.2,395.0 L1691.2,412.0 L1691.2,430.0 L1670.0,447.5 Z" fill="#2a92c8" />
<path d="M1593.0,446.2 L1593.0,385.0 L1610.0,380.7 L1650.0,382.0 L1670.2,400.0 L1670.2,446.2 Z" fill="#54ec3e" />
<path d="M1605.0,440.0 L1610.0,390.0 L1650.0,392.0 L1668.0,420.0 L1660.0,440.0 Z" fill="#2a8a24" opacity="0.7"/>
<path d="M1593.0,407.0 L1620.0,404.0 L1642.7,412.0 L1642.7,434.4 L1593.0,434.4 Z" fill="#e8e63a" />
<ellipse cx="1609.0" cy="560.8" rx="32.0" ry="11.0" fill="#2a92c8" />
<ellipse cx="1605.0" cy="558.0" rx="20.0" ry="6.0" fill="#54ec3e" />
<ellipse cx="1659.0" cy="542.5" rx="16.0" ry="4.5" fill="#3178b0" />
<ellipse cx="1679.4" cy="556.2" rx="17.0" ry="5.2" fill="#54ec3e" />
<path d="M1576.0,601.7 L1610.9,593.2 L1665.6,596.0 L1671.3,607.3 L1692.0,609.2 L1696.7,619.6 L1695.8,638.5 L1690.1,658.3 L1676.0,665.8 L1676.0,689.4 L1638.3,702.6 L1622.2,705.4 L1597.7,705.4 L1573.0,706.0 L1573.0,650.0 Z" fill="#2a92c8" />
<path d="M1576.0,607.0 L1620.0,602.0 L1630.0,615.0 L1665.6,615.0 L1696.0,621.0 L1695.0,646.0 L1689.0,665.0 L1655.0,667.0 L1652.0,695.0 L1620.0,703.0 L1573.0,702.0 Z" fill="#54ec3e" />
<path d="M1650.0,665.0 L1665.0,640.0 L1690.0,645.0 L1688.0,665.0 Z" fill="#2a8a24" opacity="0.7"/>
<path d="M1582.6,622.4 L1609.0,618.7 L1665.6,617.7 L1665.6,655.4 L1658.1,663.0 L1627.9,660.1 L1620.3,649.8 L1582.6,646.0 Z" fill="#d6d432" />
<path d="M1582.6,626.0 L1640.0,622.0 L1660.0,640.0 L1640.0,650.0 L1582.6,648.0 Z" fill="#dd8a1c" opacity="0.7"/>
<path d="M1582.6,630.9 L1618.5,627.1 L1641.1,630.9 L1627.9,640.3 L1605.3,645.1 L1586.4,645.1 Z" fill="#c8001c" />
<path d="M1578.9,668.6 L1626.0,664.9 L1652.4,674.3 L1651.5,689.4 L1631.7,695.0 L1578.9,697.9 Z" fill="#d6d432" />
<path d="M1578.9,672.0 L1630.0,670.0 L1640.0,685.0 L1578.9,692.0 Z" fill="#dd8a1c" opacity="0.8"/>
<path d="M1580.7,674.3 L1607.1,675.2 L1604.3,684.7 L1593.0,690.3 L1580.7,685.6 Z" fill="#c8001c" />
<path d="M1571.0,706.0 L1600.0,706.0 L1592.0,741.6 L1648.0,744.6 L1662.8,753.4 L1618.7,759.3 L1656.9,776.9 L1612.8,782.8 L1648.0,791.6 L1636.3,812.1 L1624.6,826.8 L1636.3,844.4 L1633.4,862.0 L1621.7,879.6 L1571.0,879.6 Z" fill="#3178b0" filter="url(#streakH)"/>
<rect x="1571.0" y="706.0" width="25.0" height="54.0" fill="#40c436" />
<rect x="1571.0" y="741.6" width="17.0" height="232.0" fill="#d6d432" />
<rect x="1571.0" y="760.0" width="14.0" height="70.0" fill="#e81038" />
<rect x="1573.0" y="790.0" width="10.0" height="20.0" fill="#dd0099" />
<rect x="1571.0" y="850.0" width="11.0" height="30.0" fill="#dd0099" />
<path d="M1571.0,876.7 L1600.0,876.0 L1640.0,877.0 L1677.4,900.0 L1675.0,930.0 L1660.0,965.0 L1640.0,979.5 L1571.0,979.5 Z" fill="#28aad8" />
<path d="M1577.6,882.0 L1620.0,877.0 L1660.0,890.0 L1670.0,930.0 L1640.0,975.0 L1577.6,975.0 Z" fill="#54ec3e" />
<path d="M1630.0,960.0 L1640.0,900.0 L1665.0,920.0 L1660.0,960.0 Z" fill="#2a8a24" opacity="0.7"/>
<path d="M1577.6,914.9 L1600.0,905.0 L1615.0,895.0 L1633.4,915.0 L1633.4,973.6 L1577.6,973.6 Z" fill="#e8e63a" />
<path d="M1577.6,930.0 L1630.0,925.0 L1633.0,960.0 L1577.6,965.0 Z" fill="#dd8a1c" opacity="0.8"/>
<rect x="1577.6" y="935.4" width="47.0" height="11.8" fill="#c8001c" />
<rect x="1577.6" y="958.0" width="22.4" height="7.0" fill="#c8001c" />
<path d="M1571.0,973.6 L1642.2,980.0 L1630.0,1035.3 L1571.0,1035.3 Z" fill="#3178b0" />
<path d="M1571.0,1032.3 L1624.6,1032.3 L1645.0,1050.0 L1630.0,1073.4 L1571.0,1073.4 Z" fill="#d6d432" />
<rect x="1580.0" y="1052.0" width="20.0" height="6.0" fill="#e81038" />
<path d="M1571.0,1073.4 L1630.5,1073.4 L1630.0,1111.6 L1571.0,1111.6 Z" fill="#40c436" />
<path d="M1580.0,1080.0 L1620.0,1080.0 L1615.0,1105.0 L1580.0,1105.0 Z" fill="#2a92c8" opacity="0.6"/>
<path d="M1571.0,1111.6 L1589.4,1111.6 L1587.0,1150.0 L1589.0,1223.0 L1571.0,1223.0 Z" fill="#3178b0" />
<rect x="1571.0" y="1145.0" width="11.0" height="20.0" fill="#40c436" /></g>
<rect x="1618.2" y="220" width="1.6" height="1538" fill="#fff"/>
<rect x="1667.9" y="220" width="1.6" height="1538" fill="#fff"/>
<g font-family="Liberation Sans" font-size="27" fill="#fff">
<text transform="translate(1596,221) rotate(90)" textLength="53" lengthAdjust="spacingAndGlyphs">5 km</text>
<text transform="translate(1646.3,221) rotate(90)" textLength="67.5" lengthAdjust="spacingAndGlyphs">10 km</text>
<text transform="translate(1696.4,221) rotate(90)" textLength="67.5" lengthAdjust="spacingAndGlyphs">15 km</text>
</g>
</g>

<!-- colorbar -->
<rect x="1719" y="220" width="36" height="119" fill="#8adcbc"/>
<rect x="1719" y="339" width="36" height="48" fill="#97e2c6"/>
<rect x="1719" y="387" width="36" height="24" fill="#a6e8d0"/>
<rect x="1719" y="411" width="36" height="25" fill="#b6ecd9"/>
<rect x="1719" y="436" width="36" height="24" fill="#c8f1e3"/>
<rect x="1719" y="460" width="36" height="24" fill="#e0f6ee"/>
<rect x="1719" y="484" width="36" height="24" fill="#ffffff"/>
<rect x="1719" y="508" width="36" height="24" fill="#990099"/>
<rect x="1719" y="532" width="36" height="24" fill="#b000b0"/>
<rect x="1719" y="556" width="36" height="24" fill="#d000d0"/>
<rect x="1719" y="580" width="36" height="24" fill="#ee00ee"/>
<rect x="1719" y="604" width="36" height="24" fill="#dd0099"/>
<rect x="1719" y="628" width="36" height="24" fill="#c0005a"/>
<rect x="1719" y="652" width="36" height="25" fill="#9a0000"/>
<rect x="1719" y="677" width="36" height="24" fill="#b00010"/>
<rect x="1719" y="701" width="36" height="24" fill="#c8001a"/>
<rect x="1719" y="725" width="36" height="24" fill="#d0001e"/>
<rect x="1719" y="749" width="36" height="24" fill="#e8103a"/>
<rect x="1719" y="773" width="36" height="24" fill="#dd7a18"/>
<rect x="1719" y="797" width="36" height="24" fill="#d99018"/>
<rect x="1719" y="821" width="36" height="24" fill="#d0a828"/>
<rect x="1719" y="845" width="36" height="24" fill="#c8c030"/>
<rect x="1719" y="869" width="36" height="24" fill="#d2d030"/>
<rect x="1719" y="893" width="36" height="24" fill="#d8dc38"/>
<rect x="1719" y="917" width="36" height="24" fill="#e2e238"/>
<rect x="1719" y="941" width="36" height="24" fill="#eeee3a"/>
<rect x="1719" y="965" width="36" height="24" fill="#1f6a1f"/>
<rect x="1719" y="989" width="36" height="24" fill="#2a8a22"/>
<rect x="1719" y="1013" width="36" height="24" fill="#30a028"/>
<rect x="1719" y="1037" width="36" height="24" fill="#38b030"/>
<rect x="1719" y="1061" width="36" height="24" fill="#40c038"/>
<rect x="1719" y="1085" width="36" height="24" fill="#48d040"/>
<rect x="1719" y="1109" width="36" height="24" fill="#50e040"/>
<rect x="1719" y="1133" width="36" height="24" fill="#58f040"/>
<rect x="1719" y="1157" width="36" height="25" fill="#28b0d8"/>
<rect x="1719" y="1182" width="36" height="24" fill="#22a2d0"/>
<rect x="1719" y="1206" width="36" height="48" fill="#2898c8"/>
<rect x="1719" y="1254" width="36" height="48" fill="#2c88c0"/>
<rect x="1719" y="1302" width="36" height="48" fill="#3078aa"/>
<rect x="1719" y="1350" width="36" height="72" fill="#3570a0"/>
<rect x="1719" y="1422" width="36" height="72" fill="#3a6295"/>
<rect x="1719" y="1494" width="36" height="72" fill="#3c5888"/>
<rect x="1719" y="1566" width="36" height="72" fill="#3e4c7c"/>
<rect x="1719" y="1638" width="36" height="120" fill="#3e3e6c"/>
<g font-family="Liberation Sans" font-size="30.5" fill="#000">
<rect x="1757" y="242.3" width="9" height="2" fill="#000"/>
<text x="1777" y="254.3">75</text>
<rect x="1757" y="322.5" width="9" height="2" fill="#000"/>
<text x="1777" y="334.5">70</text>
<rect x="1757" y="402.7" width="9" height="2" fill="#000"/>
<text x="1777" y="414.7">65</text>
<rect x="1757" y="482.9" width="9" height="2" fill="#000"/>
<text x="1777" y="494.9">60</text>
<rect x="1757" y="563.1" width="9" height="2" fill="#000"/>
<text x="1777" y="575.1">55</text>
<rect x="1757" y="643.3" width="9" height="2" fill="#000"/>
<text x="1777" y="655.3">50</text>
<rect x="1757" y="723.5" width="9" height="2" fill="#000"/>
<text x="1777" y="735.5">45</text>
<rect x="1757" y="803.7" width="9" height="2" fill="#000"/>
<text x="1777" y="815.7">40</text>
<rect x="1757" y="883.9" width="9" height="2" fill="#000"/>
<text x="1777" y="895.9">35</text>
<rect x="1757" y="964.1" width="9" height="2" fill="#000"/>
<text x="1777" y="976.1">30</text>
<rect x="1757" y="1044.3" width="9" height="2" fill="#000"/>
<text x="1777" y="1056.3">25</text>
<rect x="1757" y="1124.5" width="9" height="2" fill="#000"/>
<text x="1777" y="1136.5">20</text>
<rect x="1757" y="1204.7" width="9" height="2" fill="#000"/>
<text x="1777" y="1216.7">15</text>
<rect x="1757" y="1284.9" width="9" height="2" fill="#000"/>
<text x="1777" y="1296.9">10</text>
<rect x="1757" y="1365.1" width="9" height="2" fill="#000"/>
<text x="1777" y="1377.1">5</text>
<rect x="1757" y="1445.3" width="9" height="2" fill="#000"/>
<text x="1777" y="1457.3">0</text>
<rect x="1757" y="1525.5" width="9" height="2" fill="#000"/>
<text x="1777" y="1537.5">−5</text>
<rect x="1757" y="1605.7" width="9" height="2" fill="#000"/>
<text x="1777" y="1617.7">−10</text>
<rect x="1757" y="1685.9" width="9" height="2" fill="#000"/>
<text x="1777" y="1697.9">−15</text>
</g>


<!-- frames -->
<g fill="none" stroke="#000" stroke-width="2">
<rect x="20" y="63" width="1546" height="154"/>
<rect x="20" y="219" width="1546" height="1540"/>
<rect x="1568" y="219" width="150" height="1540"/>
<rect x="1718" y="219" width="38" height="1540"/>
</g>

<path d="M138.6,1813.5 A38.75,38.75 0 1 0 138.6,1854.5" fill="none" stroke="#fdb714" stroke-width="18.5"/>
<path d="M99,1816 C115,1808 135,1812 150,1816 C158,1818 163,1814 167,1811 L167,1828 C160,1832 155,1833 148,1831 C132,1826 115,1824 99,1832 Z" fill="#0a94d6"/>
<path d="M99,1837 C115,1829 135,1833 150,1837 C158,1839 163,1835 167,1832 L167,1849 C160,1853 155,1854 148,1852 C132,1847 115,1845 99,1853 Z" fill="#0a94d6"/>
<g font-family="Liberation Sans" fill="#222">
<text x="177" y="1807.6" font-size="28.5" textLength="113" lengthAdjust="spacingAndGlyphs">Servicio</text>
<text x="177" y="1833.8" font-size="28.5" textLength="203" lengthAdjust="spacingAndGlyphs">Meteorológico</text>
<text x="177" y="1860" font-size="28.5" textLength="121" lengthAdjust="spacingAndGlyphs">Nacional</text>
<text x="180" y="1880" font-size="16.5" font-weight="bold" textLength="93" lengthAdjust="spacingAndGlyphs">Argentina</text>
</g>
<ellipse cx="520.8" cy="1803.7" rx="3.6" ry="1.9" transform="rotate(152 520.8 1803.7)" fill="#e5e5e5" stroke="#2f3a66" stroke-width="1.1"/>
<ellipse cx="515.5" cy="1807.4" rx="3.6" ry="1.9" transform="rotate(140 515.5 1807.4)" fill="#e5e5e5" stroke="#2f3a66" stroke-width="1.1"/>
<ellipse cx="510.8" cy="1812.3" rx="3.6" ry="1.9" transform="rotate(129 510.8 1812.3)" fill="#e5e5e5" stroke="#2f3a66" stroke-width="1.1"/>
<ellipse cx="506.8" cy="1818.2" rx="3.6" ry="1.9" transform="rotate(119 506.8 1818.2)" fill="#e5e5e5" stroke="#2f3a66" stroke-width="1.1"/>
<ellipse cx="503.7" cy="1825.0" rx="3.6" ry="1.9" transform="rotate(110 503.7 1825.0)" fill="#e5e5e5" stroke="#2f3a66" stroke-width="1.1"/>
<ellipse cx="501.6" cy="1832.5" rx="3.6" ry="1.9" transform="rotate(101 501.6 1832.5)" fill="#e5e5e5" stroke="#2f3a66" stroke-width="1.1"/>
<ellipse cx="500.6" cy="1840.3" rx="3.6" ry="1.9" transform="rotate(93 500.6 1840.3)" fill="#e5e5e5" stroke="#2f3a66" stroke-width="1.1"/>
<ellipse cx="500.7" cy="1848.2" rx="3.6" ry="1.9" transform="rotate(85 500.7 1848.2)" fill="#e5e5e5" stroke="#2f3a66" stroke-width="1.1"/>
<ellipse cx="501.9" cy="1856.0" rx="3.6" ry="1.9" transform="rotate(77 501.9 1856.0)" fill="#e5e5e5" stroke="#2f3a66" stroke-width="1.1"/>
<ellipse cx="504.1" cy="1863.4" rx="3.6" ry="1.9" transform="rotate(69 504.1 1863.4)" fill="#e5e5e5" stroke="#2f3a66" stroke-width="1.1"/>
<ellipse cx="507.4" cy="1870.1" rx="3.6" ry="1.9" transform="rotate(59 507.4 1870.1)" fill="#e5e5e5" stroke="#2f3a66" stroke-width="1.1"/>
<ellipse cx="511.5" cy="1875.9" rx="3.6" ry="1.9" transform="rotate(49 511.5 1875.9)" fill="#e5e5e5" stroke="#2f3a66" stroke-width="1.1"/>
<ellipse cx="516.4" cy="1880.5" rx="3.6" ry="1.9" transform="rotate(38 516.4 1880.5)" fill="#e5e5e5" stroke="#2f3a66" stroke-width="1.1"/>
<ellipse cx="521.8" cy="1884.0" rx="3.6" ry="1.9" transform="rotate(26 521.8 1884.0)" fill="#e5e5e5" stroke="#2f3a66" stroke-width="1.1"/>
<ellipse cx="527.6" cy="1886.0" rx="3.6" ry="1.9" transform="rotate(13 527.6 1886.0)" fill="#e5e5e5" stroke="#2f3a66" stroke-width="1.1"/>
<ellipse cx="533.6" cy="1886.6" rx="3.6" ry="1.9" transform="rotate(-1 533.6 1886.6)" fill="#e5e5e5" stroke="#2f3a66" stroke-width="1.1"/>
<ellipse cx="545.2" cy="1803.7" rx="3.6" ry="1.9" transform="rotate(28 545.2 1803.7)" fill="#e5e5e5" stroke="#2f3a66" stroke-width="1.1"/>
<ellipse cx="550.5" cy="1807.4" rx="3.6" ry="1.9" transform="rotate(40 550.5 1807.4)" fill="#e5e5e5" stroke="#2f3a66" stroke-width="1.1"/>
<ellipse cx="555.2" cy="1812.3" rx="3.6" ry="1.9" transform="rotate(51 555.2 1812.3)" fill="#e5e5e5" stroke="#2f3a66" stroke-width="1.1"/>
<ellipse cx="559.2" cy="1818.2" rx="3.6" ry="1.9" transform="rotate(61 559.2 1818.2)" fill="#e5e5e5" stroke="#2f3a66" stroke-width="1.1"/>
<ellipse cx="562.3" cy="1825.0" rx="3.6" ry="1.9" transform="rotate(70 562.3 1825.0)" fill="#e5e5e5" stroke="#2f3a66" stroke-width="1.1"/>
<ellipse cx="564.4" cy="1832.5" rx="3.6" ry="1.9" transform="rotate(79 564.4 1832.5)" fill="#e5e5e5" stroke="#2f3a66" stroke-width="1.1"/>
<ellipse cx="565.4" cy="1840.3" rx="3.6" ry="1.9" transform="rotate(87 565.4 1840.3)" fill="#e5e5e5" stroke="#2f3a66" stroke-width="1.1"/>
<ellipse cx="565.3" cy="1848.2" rx="3.6" ry="1.9" transform="rotate(95 565.3 1848.2)" fill="#e5e5e5" stroke="#2f3a66" stroke-width="1.1"/>
<ellipse cx="564.1" cy="1856.0" rx="3.6" ry="1.9" transform="rotate(103 564.1 1856.0)" fill="#e5e5e5" stroke="#2f3a66" stroke-width="1.1"/>
<ellipse cx="561.9" cy="1863.4" rx="3.6" ry="1.9" transform="rotate(111 561.9 1863.4)" fill="#e5e5e5" stroke="#2f3a66" stroke-width="1.1"/>
<ellipse cx="558.6" cy="1870.1" rx="3.6" ry="1.9" transform="rotate(121 558.6 1870.1)" fill="#e5e5e5" stroke="#2f3a66" stroke-width="1.1"/>
<ellipse cx="554.5" cy="1875.9" rx="3.6" ry="1.9" transform="rotate(131 554.5 1875.9)" fill="#e5e5e5" stroke="#2f3a66" stroke-width="1.1"/>
<ellipse cx="549.6" cy="1880.5" rx="3.6" ry="1.9" transform="rotate(142 549.6 1880.5)" fill="#e5e5e5" stroke="#2f3a66" stroke-width="1.1"/>
<ellipse cx="544.2" cy="1884.0" rx="3.6" ry="1.9" transform="rotate(154 544.2 1884.0)" fill="#e5e5e5" stroke="#2f3a66" stroke-width="1.1"/>
<ellipse cx="538.4" cy="1886.0" rx="3.6" ry="1.9" transform="rotate(167 538.4 1886.0)" fill="#e5e5e5" stroke="#2f3a66" stroke-width="1.1"/>
<ellipse cx="532.4" cy="1886.6" rx="3.6" ry="1.9" transform="rotate(-179 532.4 1886.6)" fill="#e5e5e5" stroke="#2f3a66" stroke-width="1.1"/>
<path d="M502,1820.6 Q497,1860.6 523,1885.6" fill="none" stroke="#2f3a66" stroke-width="1"/>
<path d="M564,1820.6 Q569,1860.6 543,1885.6" fill="none" stroke="#2f3a66" stroke-width="1"/>
<line x1="524.2" y1="1799.3" x2="506.6" y2="1795.4" stroke="#2f3a66" stroke-width="1" opacity="0.8"/>
<line x1="524.5" y1="1798.5" x2="512.1" y2="1794.1" stroke="#2f3a66" stroke-width="1" opacity="0.8"/>
<line x1="524.8" y1="1797.7" x2="508.4" y2="1789.8" stroke="#2f3a66" stroke-width="1" opacity="0.8"/>
<line x1="525.3" y1="1796.9" x2="514.1" y2="1789.8" stroke="#2f3a66" stroke-width="1" opacity="0.8"/>
<line x1="525.8" y1="1796.2" x2="511.4" y2="1784.8" stroke="#2f3a66" stroke-width="1" opacity="0.8"/>
<line x1="526.4" y1="1795.5" x2="516.9" y2="1786.0" stroke="#2f3a66" stroke-width="1" opacity="0.8"/>
<line x1="527.1" y1="1794.9" x2="515.4" y2="1780.6" stroke="#2f3a66" stroke-width="1" opacity="0.8"/>
<line x1="527.9" y1="1794.4" x2="520.5" y2="1782.9" stroke="#2f3a66" stroke-width="1" opacity="0.8"/>
<line x1="528.7" y1="1794.0" x2="520.2" y2="1777.2" stroke="#2f3a66" stroke-width="1" opacity="0.8"/>
<line x1="529.6" y1="1793.6" x2="524.7" y2="1780.6" stroke="#2f3a66" stroke-width="1" opacity="0.8"/>
<line x1="530.5" y1="1793.3" x2="525.6" y2="1775.0" stroke="#2f3a66" stroke-width="1" opacity="0.8"/>
<line x1="531.5" y1="1793.1" x2="529.3" y2="1779.3" stroke="#2f3a66" stroke-width="1" opacity="0.8"/>
<line x1="532.4" y1="1793.0" x2="531.3" y2="1774.1" stroke="#2f3a66" stroke-width="1" opacity="0.8"/>
<line x1="533.4" y1="1793.0" x2="534.0" y2="1779.0" stroke="#2f3a66" stroke-width="1" opacity="0.8"/>
<line x1="534.4" y1="1793.1" x2="537.1" y2="1774.3" stroke="#2f3a66" stroke-width="1" opacity="0.8"/>
<line x1="535.3" y1="1793.3" x2="538.7" y2="1779.7" stroke="#2f3a66" stroke-width="1" opacity="0.8"/>
<line x1="536.3" y1="1793.5" x2="542.8" y2="1775.8" stroke="#2f3a66" stroke-width="1" opacity="0.8"/>
<line x1="537.1" y1="1793.9" x2="543.1" y2="1781.5" stroke="#2f3a66" stroke-width="1" opacity="0.8"/>
<line x1="538.0" y1="1794.3" x2="547.9" y2="1778.5" stroke="#2f3a66" stroke-width="1" opacity="0.8"/>
<line x1="538.8" y1="1794.9" x2="547.1" y2="1784.1" stroke="#2f3a66" stroke-width="1" opacity="0.8"/>
<line x1="539.5" y1="1795.4" x2="552.4" y2="1782.2" stroke="#2f3a66" stroke-width="1" opacity="0.8"/>
<line x1="540.1" y1="1796.1" x2="550.4" y2="1787.5" stroke="#2f3a66" stroke-width="1" opacity="0.8"/>
<line x1="540.7" y1="1796.8" x2="556.0" y2="1786.9" stroke="#2f3a66" stroke-width="1" opacity="0.8"/>
<line x1="541.1" y1="1797.6" x2="552.9" y2="1791.6" stroke="#2f3a66" stroke-width="1" opacity="0.8"/>
<line x1="541.5" y1="1798.4" x2="558.5" y2="1792.1" stroke="#2f3a66" stroke-width="1" opacity="0.8"/>
<line x1="541.8" y1="1799.2" x2="554.4" y2="1796.1" stroke="#2f3a66" stroke-width="1" opacity="0.8"/>
<line x1="541.9" y1="1800.1" x2="559.8" y2="1797.8" stroke="#2f3a66" stroke-width="1" opacity="0.8"/>
<ellipse cx="533" cy="1800" rx="8" ry="6.5" fill="#e5e5e5" stroke="#2f3a66" stroke-width="1" opacity="0.9"/>
<path d="M527.5,1798 h4 M534.5,1798 h4" stroke="#2f3a66" stroke-width="1.6"/>
<ellipse cx="533" cy="1840.6" rx="27" ry="40" fill="#e5e5e5" stroke="#2f3a66" stroke-width="1.8"/>
<line x1="519.4" y1="1809.0" x2="546.6" y2="1809.0" stroke="#2f3a66" stroke-width="0.9" opacity="0.75"/>
<line x1="516.3" y1="1813.3" x2="549.7" y2="1813.3" stroke="#2f3a66" stroke-width="0.9" opacity="0.75"/>
<line x1="513.9" y1="1817.6" x2="552.1" y2="1817.6" stroke="#2f3a66" stroke-width="0.9" opacity="0.75"/>
<line x1="512.1" y1="1821.9" x2="553.9" y2="1821.9" stroke="#2f3a66" stroke-width="0.9" opacity="0.75"/>
<line x1="510.8" y1="1826.2" x2="555.2" y2="1826.2" stroke="#2f3a66" stroke-width="0.9" opacity="0.75"/>
<line x1="509.9" y1="1830.5" x2="556.1" y2="1830.5" stroke="#2f3a66" stroke-width="0.9" opacity="0.75"/>
<line x1="509.3" y1="1834.8" x2="556.7" y2="1834.8" stroke="#2f3a66" stroke-width="0.9" opacity="0.75"/>
<line x1="509.0" y1="1839.1" x2="557.0" y2="1839.1" stroke="#2f3a66" stroke-width="0.9" opacity="0.75"/>
<path d="M508,1848.6 Q533,1839.6 558,1848.6" fill="none" stroke="#2f3a66" stroke-width="1"/>
<path d="M511,1859.6 L525,1851.6 L541,1851.6 L555,1859.6" fill="none" stroke="#2f3a66" stroke-width="1.1"/>
<line x1="533" y1="1820" x2="533" y2="1868" stroke="#2f3a66" stroke-width="1.8"/>
<path d="M525,1826 C523,1815 531,1811 537,1814 C542,1817 541,1824 541,1827 Z" fill="#e5e5e5" stroke="#2f3a66" stroke-width="1.3"/>
<path d="M522,1853.6 C528,1847.6 538,1847.6 544,1853.6" fill="none" stroke="#2f3a66" stroke-width="1.8"/>
<path d="M523,1894 L533,1887 L543,1894" stroke="#2f3a66" stroke-width="2.6" fill="none"/>
<rect x="527" y="1881" width="12" height="5" fill="#2f3a66"/>
<ellipse cx="881.8" cy="1803.7" rx="3.6" ry="1.9" transform="rotate(152 881.8 1803.7)" fill="#e5e5e5" stroke="#2f3a66" stroke-width="1.1"/>
<ellipse cx="876.5" cy="1807.4" rx="3.6" ry="1.9" transform="rotate(140 876.5 1807.4)" fill="#e5e5e5" stroke="#2f3a66" stroke-width="1.1"/>
<ellipse cx="871.8" cy="1812.3" rx="3.6" ry="1.9" transform="rotate(129 871.8 1812.3)" fill="#e5e5e5" stroke="#2f3a66" stroke-width="1.1"/>
<ellipse cx="867.8" cy="1818.2" rx="3.6" ry="1.9" transform="rotate(119 867.8 1818.2)" fill="#e5e5e5" stroke="#2f3a66" stroke-width="1.1"/>
<ellipse cx="864.7" cy="1825.0" rx="3.6" ry="1.9" transform="rotate(110 864.7 1825.0)" fill="#e5e5e5" stroke="#2f3a66" stroke-width="1.1"/>
<ellipse cx="862.6" cy="1832.5" rx="3.6" ry="1.9" transform="rotate(101 862.6 1832.5)" fill="#e5e5e5" stroke="#2f3a66" stroke-width="1.1"/>
<ellipse cx="861.6" cy="1840.3" rx="3.6" ry="1.9" transform="rotate(93 861.6 1840.3)" fill="#e5e5e5" stroke="#2f3a66" stroke-width="1.1"/>
<ellipse cx="861.7" cy="1848.2" rx="3.6" ry="1.9" transform="rotate(85 861.7 1848.2)" fill="#e5e5e5" stroke="#2f3a66" stroke-width="1.1"/>
<ellipse cx="862.9" cy="1856.0" rx="3.6" ry="1.9" transform="rotate(77 862.9 1856.0)" fill="#e5e5e5" stroke="#2f3a66" stroke-width="1.1"/>
<ellipse cx="865.1" cy="1863.4" rx="3.6" ry="1.9" transform="rotate(69 865.1 1863.4)" fill="#e5e5e5" stroke="#2f3a66" stroke-width="1.1"/>
<ellipse cx="868.4" cy="1870.1" rx="3.6" ry="1.9" transform="rotate(59 868.4 1870.1)" fill="#e5e5e5" stroke="#2f3a66" stroke-width="1.1"/>
<ellipse cx="872.5" cy="1875.9" rx="3.6" ry="1.9" transform="rotate(49 872.5 1875.9)" fill="#e5e5e5" stroke="#2f3a66" stroke-width="1.1"/>
<ellipse cx="877.4" cy="1880.5" rx="3.6" ry="1.9" transform="rotate(38 877.4 1880.5)" fill="#e5e5e5" stroke="#2f3a66" stroke-width="1.1"/>
<ellipse cx="882.8" cy="1884.0" rx="3.6" ry="1.9" transform="rotate(26 882.8 1884.0)" fill="#e5e5e5" stroke="#2f3a66" stroke-width="1.1"/>
<ellipse cx="888.6" cy="1886.0" rx="3.6" ry="1.9" transform="rotate(13 888.6 1886.0)" fill="#e5e5e5" stroke="#2f3a66" stroke-width="1.1"/>
<ellipse cx="894.6" cy="1886.6" rx="3.6" ry="1.9" transform="rotate(-1 894.6 1886.6)" fill="#e5e5e5" stroke="#2f3a66" stroke-width="1.1"/>
<ellipse cx="906.2" cy="1803.7" rx="3.6" ry="1.9" transform="rotate(28 906.2 1803.7)" fill="#e5e5e5" stroke="#2f3a66" stroke-width="1.1"/>
<ellipse cx="911.5" cy="1807.4" rx="3.6" ry="1.9" transform="rotate(40 911.5 1807.4)" fill="#e5e5e5" stroke="#2f3a66" stroke-width="1.1"/>
<ellipse cx="916.2" cy="1812.3" rx="3.6" ry="1.9" transform="rotate(51 916.2 1812.3)" fill="#e5e5e5" stroke="#2f3a66" stroke-width="1.1"/>
<ellipse cx="920.2" cy="1818.2" rx="3.6" ry="1.9" transform="rotate(61 920.2 1818.2)" fill="#e5e5e5" stroke="#2f3a66" stroke-width="1.1"/>
<ellipse cx="923.3" cy="1825.0" rx="3.6" ry="1.9" transform="rotate(70 923.3 1825.0)" fill="#e5e5e5" stroke="#2f3a66" stroke-width="1.1"/>
<ellipse cx="925.4" cy="1832.5" rx="3.6" ry="1.9" transform="rotate(79 925.4 1832.5)" fill="#e5e5e5" stroke="#2f3a66" stroke-width="1.1"/>
<ellipse cx="926.4" cy="1840.3" rx="3.6" ry="1.9" transform="rotate(87 926.4 1840.3)" fill="#e5e5e5" stroke="#2f3a66" stroke-width="1.1"/>
<ellipse cx="926.3" cy="1848.2" rx="3.6" ry="1.9" transform="rotate(95 926.3 1848.2)" fill="#e5e5e5" stroke="#2f3a66" stroke-width="1.1"/>
<ellipse cx="925.1" cy="1856.0" rx="3.6" ry="1.9" transform="rotate(103 925.1 1856.0)" fill="#e5e5e5" stroke="#2f3a66" stroke-width="1.1"/>
<ellipse cx="922.9" cy="1863.4" rx="3.6" ry="1.9" transform="rotate(111 922.9 1863.4)" fill="#e5e5e5" stroke="#2f3a66" stroke-width="1.1"/>
<ellipse cx="919.6" cy="1870.1" rx="3.6" ry="1.9" transform="rotate(121 919.6 1870.1)" fill="#e5e5e5" stroke="#2f3a66" stroke-width="1.1"/>
<ellipse cx="915.5" cy="1875.9" rx="3.6" ry="1.9" transform="rotate(131 915.5 1875.9)" fill="#e5e5e5" stroke="#2f3a66" stroke-width="1.1"/>
<ellipse cx="910.6" cy="1880.5" rx="3.6" ry="1.9" transform="rotate(142 910.6 1880.5)" fill="#e5e5e5" stroke="#2f3a66" stroke-width="1.1"/>
<ellipse cx="905.2" cy="1884.0" rx="3.6" ry="1.9" transform="rotate(154 905.2 1884.0)" fill="#e5e5e5" stroke="#2f3a66" stroke-width="1.1"/>
<ellipse cx="899.4" cy="1886.0" rx="3.6" ry="1.9" transform="rotate(167 899.4 1886.0)" fill="#e5e5e5" stroke="#2f3a66" stroke-width="1.1"/>
<ellipse cx="893.4" cy="1886.6" rx="3.6" ry="1.9" transform="rotate(-179 893.4 1886.6)" fill="#e5e5e5" stroke="#2f3a66" stroke-width="1.1"/>
<path d="M863,1820.6 Q858,1860.6 884,1885.6" fill="none" stroke="#2f3a66" stroke-width="1"/>
<path d="M925,1820.6 Q930,1860.6 904,1885.6" fill="none" stroke="#2f3a66" stroke-width="1"/>
<line x1="885.2" y1="1799.3" x2="867.6" y2="1795.4" stroke="#2f3a66" stroke-width="1" opacity="0.8"/>
<line x1="885.5" y1="1798.5" x2="873.1" y2="1794.1" stroke="#2f3a66" stroke-width="1" opacity="0.8"/>
<line x1="885.8" y1="1797.7" x2="869.4" y2="1789.8" stroke="#2f3a66" stroke-width="1" opacity="0.8"/>
<line x1="886.3" y1="1796.9" x2="875.1" y2="1789.8" stroke="#2f3a66" stroke-width="1" opacity="0.8"/>
<line x1="886.8" y1="1796.2" x2="872.4" y2="1784.8" stroke="#2f3a66" stroke-width="1" opacity="0.8"/>
<line x1="887.4" y1="1795.5" x2="877.9" y2="1786.0" stroke="#2f3a66" stroke-width="1" opacity="0.8"/>
<line x1="888.1" y1="1794.9" x2="876.4" y2="1780.6" stroke="#2f3a66" stroke-width="1" opacity="0.8"/>
<line x1="888.9" y1="1794.4" x2="881.5" y2="1782.9" stroke="#2f3a66" stroke-width="1" opacity="0.8"/>
<line x1="889.7" y1="1794.0" x2="881.2" y2="1777.2" stroke="#2f3a66" stroke-width="1" opacity="0.8"/>
<line x1="890.6" y1="1793.6" x2="885.7" y2="1780.6" stroke="#2f3a66" stroke-width="1" opacity="0.8"/>
<line x1="891.5" y1="1793.3" x2="886.6" y2="1775.0" stroke="#2f3a66" stroke-width="1" opacity="0.8"/>
<line x1="892.5" y1="1793.1" x2="890.3" y2="1779.3" stroke="#2f3a66" stroke-width="1" opacity="0.8"/>
<line x1="893.4" y1="1793.0" x2="892.3" y2="1774.1" stroke="#2f3a66" stroke-width="1" opacity="0.8"/>
<line x1="894.4" y1="1793.0" x2="895.0" y2="1779.0" stroke="#2f3a66" stroke-width="1" opacity="0.8"/>
<line x1="895.4" y1="1793.1" x2="898.1" y2="1774.3" stroke="#2f3a66" stroke-width="1" opacity="0.8"/>
<line x1="896.3" y1="1793.3" x2="899.7" y2="1779.7" stroke="#2f3a66" stroke-width="1" opacity="0.8"/>
<line x1="897.3" y1="1793.5" x2="903.8" y2="1775.8" stroke="#2f3a66" stroke-width="1" opacity="0.8"/>
<line x1="898.1" y1="1793.9" x2="904.1" y2="1781.5" stroke="#2f3a66" stroke-width="1" opacity="0.8"/>
<line x1="899.0" y1="1794.3" x2="908.9" y2="1778.5" stroke="#2f3a66" stroke-width="1" opacity="0.8"/>
<line x1="899.8" y1="1794.9" x2="908.1" y2="1784.1" stroke="#2f3a66" stroke-width="1" opacity="0.8"/>
<line x1="900.5" y1="1795.4" x2="913.4" y2="1782.2" stroke="#2f3a66" stroke-width="1" opacity="0.8"/>
<line x1="901.1" y1="1796.1" x2="911.4" y2="1787.5" stroke="#2f3a66" stroke-width="1" opacity="0.8"/>
<line x1="901.7" y1="1796.8" x2="917.0" y2="1786.9" stroke="#2f3a66" stroke-width="1" opacity="0.8"/>
<line x1="902.1" y1="1797.6" x2="913.9" y2="1791.6" stroke="#2f3a66" stroke-width="1" opacity="0.8"/>
<line x1="902.5" y1="1798.4" x2="919.5" y2="1792.1" stroke="#2f3a66" stroke-width="1" opacity="0.8"/>
<line x1="902.8" y1="1799.2" x2="915.4" y2="1796.1" stroke="#2f3a66" stroke-width="1" opacity="0.8"/>
<line x1="902.9" y1="1800.1" x2="920.8" y2="1797.8" stroke="#2f3a66" stroke-width="1" opacity="0.8"/>
<ellipse cx="894" cy="1800" rx="8" ry="6.5" fill="#e5e5e5" stroke="#2f3a66" stroke-width="1" opacity="0.9"/>
<path d="M888.5,1798 h4 M895.5,1798 h4" stroke="#2f3a66" stroke-width="1.6"/>
<ellipse cx="894" cy="1840.6" rx="27" ry="40" fill="#e5e5e5" stroke="#2f3a66" stroke-width="1.8"/>
<line x1="880.4" y1="1809.0" x2="907.6" y2="1809.0" stroke="#2f3a66" stroke-width="0.9" opacity="0.75"/>
<line x1="877.3" y1="1813.3" x2="910.7" y2="1813.3" stroke="#2f3a66" stroke-width="0.9" opacity="0.75"/>
<line x1="874.9" y1="1817.6" x2="913.1" y2="1817.6" stroke="#2f3a66" stroke-width="0.9" opacity="0.75"/>
<line x1="873.1" y1="1821.9" x2="914.9" y2="1821.9" stroke="#2f3a66" stroke-width="0.9" opacity="0.75"/>
<line x1="871.8" y1="1826.2" x2="916.2" y2="1826.2" stroke="#2f3a66" stroke-width="0.9" opacity="0.75"/>
<line x1="870.9" y1="1830.5" x2="917.1" y2="1830.5" stroke="#2f3a66" stroke-width="0.9" opacity="0.75"/>
<line x1="870.3" y1="1834.8" x2="917.7" y2="1834.8" stroke="#2f3a66" stroke-width="0.9" opacity="0.75"/>
<line x1="870.0" y1="1839.1" x2="918.0" y2="1839.1" stroke="#2f3a66" stroke-width="0.9" opacity="0.75"/>
<path d="M869,1848.6 Q894,1839.6 919,1848.6" fill="none" stroke="#2f3a66" stroke-width="1"/>
<path d="M872,1859.6 L886,1851.6 L902,1851.6 L916,1859.6" fill="none" stroke="#2f3a66" stroke-width="1.1"/>
<line x1="894" y1="1820" x2="894" y2="1868" stroke="#2f3a66" stroke-width="1.8"/>
<path d="M886,1826 C884,1815 892,1811 898,1814 C903,1817 902,1824 902,1827 Z" fill="#e5e5e5" stroke="#2f3a66" stroke-width="1.3"/>
<path d="M883,1853.6 C889,1847.6 899,1847.6 905,1853.6" fill="none" stroke="#2f3a66" stroke-width="1.8"/>
<path d="M884,1894 L894,1887 L904,1894" stroke="#2f3a66" stroke-width="2.6" fill="none"/>
<rect x="888" y="1881" width="12" height="5" fill="#2f3a66"/>
<g font-family="Liberation Serif" fill="#28325a">
<text x="582" y="1828.5" font-size="30" font-weight="bold" textLength="133" lengthAdjust="spacingAndGlyphs">Ministerio</text>
<text x="582" y="1853.4" font-size="30" font-weight="bold" textLength="134" lengthAdjust="spacingAndGlyphs">de Defensa</text>
<text x="583" y="1873" font-size="16" fill="#3a4368" textLength="151" lengthAdjust="spacingAndGlyphs">República Argentina</text>
<text x="946" y="1827.8" font-size="30" font-weight="bold" textLength="135" lengthAdjust="spacingAndGlyphs">Ministerio</text>
<text x="946" y="1853.4" font-size="30" font-weight="bold" textLength="163" lengthAdjust="spacingAndGlyphs">de Economía</text>
<text x="946" y="1873" font-size="16" textLength="153" lengthAdjust="spacingAndGlyphs">República Argentina</text>
</g>
</svg>
</body></html>
